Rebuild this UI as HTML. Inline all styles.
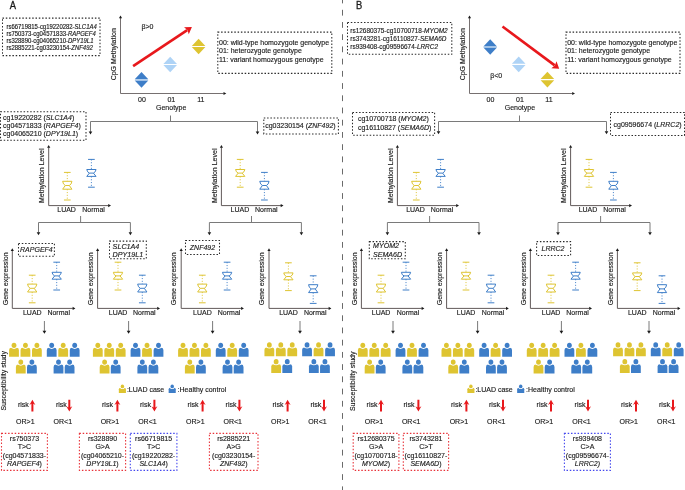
<!DOCTYPE html>
<html><head><meta charset="utf-8"><title>Figure</title>
<style>
html,body{margin:0;padding:0;background:#fff;}
body{width:685px;height:490px;overflow:hidden;}
svg{display:block;filter:blur(0.3px);}
svg text{font-family:"Liberation Sans", sans-serif;fill:#1a1a1a;stroke:#1a1a1a;stroke-width:0.14px;}
</style></head>
<body>
<svg width="685" height="490" viewBox="0 0 685 490">
<rect x="0" y="0" width="685" height="490" fill="#ffffff"/>
<text transform="translate(9.7,8.8) scale(0.92,1)" font-size="10.2" style="stroke-width:0.3px">A</text>
<text transform="translate(355.9,8.8) scale(0.92,1)" font-size="10.2" style="stroke-width:0.3px">B</text>
<line x1="342.5" y1="0" x2="342.5" y2="490" stroke="#6a6a6a" stroke-width="1" stroke-dasharray="5.8 6.42" stroke-dashoffset="2.42"/>
<rect x="2.5" y="18.1" width="97.5" height="37.5" fill="none" stroke="#2a2a2a" stroke-width="1.05" stroke-dasharray="1.5 1.8"/>
<text transform="translate(6.5,29.30) scale(0.5,0.54)" font-size="11.9" style="stroke-width:0.28px">rs66719815-cg19220282-<tspan font-style="italic">SLC1A4</tspan></text>
<text transform="translate(6.5,36.25) scale(0.5,0.54)" font-size="11.9" style="stroke-width:0.28px">rs750373-cg04571833-<tspan font-style="italic">RAPGEF4</tspan></text>
<text transform="translate(6.5,43.20) scale(0.5,0.54)" font-size="11.9" style="stroke-width:0.28px">rs328890-cg04065210-<tspan font-style="italic">DPY19L1</tspan></text>
<text transform="translate(6.5,50.15) scale(0.5,0.54)" font-size="11.9" style="stroke-width:0.28px">rs2885221-cg03230154-<tspan font-style="italic">ZNF492</tspan></text>
<rect x="347.5" y="22.5" width="104.30000000000001" height="31.799999999999997" fill="none" stroke="#2a2a2a" stroke-width="1.05" stroke-dasharray="1.5 1.8"/>
<text x="350.3" y="32.70" font-size="6.45">rs12680375-cg10700718-<tspan font-style="italic">MYOM2</tspan></text>
<text x="350.3" y="40.60" font-size="6.45">rs3743281-cg16110827-<tspan font-style="italic">SEMA6D</tspan></text>
<text x="350.3" y="48.50" font-size="6.45">rs939408-cg09596674-<tspan font-style="italic">LRRC2</tspan></text>
<line x1="120.5" y1="17.5" x2="120.5" y2="93.5" stroke="#767070" stroke-width="1" />
<path d="M118.9,18.3 L122.1,18.3 L120.5,15.5 Z" fill="#1a1a1a"/>
<line x1="120.5" y1="93.5" x2="223.8" y2="93.5" stroke="#767070" stroke-width="1" />
<path d="M223.5,91.9 L223.5,95.1 L226.3,93.5 Z" fill="#1a1a1a"/>
<text transform="translate(116.3,54.3) rotate(-90)" font-size="7" text-anchor="middle">CpG Methylation</text>
<text x="141.9" y="102.2" font-size="7" text-anchor="middle" >00</text>
<text x="171.3" y="102.2" font-size="7" text-anchor="middle" >01</text>
<text x="200.8" y="102.2" font-size="7" text-anchor="middle" >11</text>
<text x="171.20000000000002" y="109.7" font-size="7" text-anchor="middle" >Genotype</text>
<line x1="170.5" y1="115.5" x2="170.5" y2="121.5" stroke="#7a7a7a" stroke-width="1" />
<path d="M141.5,72.10000000000001 L148.3,79.35000000000001 L134.7,79.35000000000001 Z" fill="#3e7ec8"/>
<path d="M141.5,87.7 L148.3,80.45 L134.7,80.45 Z" fill="#3e7ec8"/>
<rect x="135.1" y="79.35000000000001" width="12.799999999999999" height="1.1" fill="#a6c8ec"/>
<path d="M170.2,56.7 L177.0,63.95 L163.39999999999998,63.95 Z" fill="#aed3f6"/>
<path d="M170.2,72.3 L177.0,65.05 L163.39999999999998,65.05 Z" fill="#aed3f6"/>
<path d="M198.6,38.7 L205.4,45.95 L191.79999999999998,45.95 Z" fill="#dec431"/>
<path d="M198.6,54.3 L205.4,47.05 L191.79999999999998,47.05 Z" fill="#dec431"/>
<line x1="133.1" y1="66.1" x2="187.23" y2="30.20" stroke="#e8181c" stroke-width="2.6"/>
<path d="M191.9,27.1 L188.78,34.33 L187.40,30.08 L184.02,27.16 Z" fill="#e8181c"/>
<text x="141.4" y="29.4" font-size="7" text-anchor="start" >β&gt;0</text>
<rect x="217.8" y="32.1" width="114.0" height="41.300000000000004" fill="none" stroke="#2a2a2a" stroke-width="1.05" stroke-dasharray="1.5 1.8"/>
<text x="219.0" y="45.1" font-size="7" text-anchor="start" >00: wild-type homozygote genotype</text>
<text x="219.0" y="53.400000000000006" font-size="7" text-anchor="start" >01: heterozygote genotype</text>
<text x="219.0" y="61.7" font-size="7" text-anchor="start" >11: variant homozygous genotype</text>
<line x1="469.5" y1="17.5" x2="469.5" y2="93.5" stroke="#767070" stroke-width="1" />
<path d="M467.9,18.3 L471.1,18.3 L469.5,15.5 Z" fill="#1a1a1a"/>
<line x1="469.5" y1="93.5" x2="572.5" y2="93.5" stroke="#767070" stroke-width="1" />
<path d="M572.2,91.9 L572.2,95.1 L575.0,93.5 Z" fill="#1a1a1a"/>
<text transform="translate(465.3,54.3) rotate(-90)" font-size="7" text-anchor="middle">CpG Methylation</text>
<text x="490.4" y="102.2" font-size="7" text-anchor="middle" >00</text>
<text x="520" y="102.2" font-size="7" text-anchor="middle" >01</text>
<text x="549" y="102.2" font-size="7" text-anchor="middle" >11</text>
<text x="519.9" y="109.7" font-size="7" text-anchor="middle" >Genotype</text>
<line x1="519.5" y1="115.5" x2="519.5" y2="121.5" stroke="#7a7a7a" stroke-width="1" />
<path d="M490.2,39.2 L497.0,46.45 L483.4,46.45 Z" fill="#3e7ec8"/>
<path d="M490.2,54.8 L497.0,47.55 L483.4,47.55 Z" fill="#3e7ec8"/>
<rect x="483.79999999999995" y="46.45" width="12.799999999999999" height="1.1" fill="#a6c8ec"/>
<path d="M518.7,56.60000000000001 L525.5,63.85000000000001 L511.90000000000003,63.85000000000001 Z" fill="#aed3f6"/>
<path d="M518.7,72.2 L525.5,64.95 L511.90000000000003,64.95 Z" fill="#aed3f6"/>
<path d="M547.4,71.8 L554.1999999999999,79.05 L540.6,79.05 Z" fill="#dec431"/>
<path d="M547.4,87.39999999999999 L554.1999999999999,80.14999999999999 L540.6,80.14999999999999 Z" fill="#dec431"/>
<line x1="502.5" y1="26.5" x2="554.71" y2="65.36" stroke="#e8181c" stroke-width="2.6"/>
<path d="M559.2,68.7 L551.34,68.21 L554.87,65.48 L556.47,61.31 Z" fill="#e8181c"/>
<text x="490.2" y="78.2" font-size="7" text-anchor="start" >β&lt;0</text>
<rect x="566.0" y="32.1" width="114.0" height="41.300000000000004" fill="none" stroke="#2a2a2a" stroke-width="1.05" stroke-dasharray="1.5 1.8"/>
<text x="567.2" y="45.1" font-size="7" text-anchor="start" >00: wild-type homozygote genotype</text>
<text x="567.2" y="53.400000000000006" font-size="7" text-anchor="start" >01: heterozygote genotype</text>
<text x="567.2" y="61.7" font-size="7" text-anchor="start" >11: variant homozygous genotype</text>
<line x1="90.5" y1="121.5" x2="257.5" y2="121.5" stroke="#7a7a7a" stroke-width="1" />
<line x1="90.5" y1="121.5" x2="90.5" y2="132" stroke="#7a7a7a" stroke-width="1" />
<path d="M88.7,131.6 L92.3,131.6 L90.5,134.6 Z" fill="#1a1a1a"/>
<line x1="257.5" y1="121.5" x2="257.5" y2="132" stroke="#7a7a7a" stroke-width="1" />
<path d="M255.7,131.6 L259.3,131.6 L257.5,134.6 Z" fill="#1a1a1a"/>
<line x1="438.5" y1="121.5" x2="606.5" y2="121.5" stroke="#7a7a7a" stroke-width="1" />
<line x1="438.5" y1="121.5" x2="438.5" y2="131.5" stroke="#7a7a7a" stroke-width="1" />
<path d="M436.7,131.2 L440.3,131.2 L438.5,134.2 Z" fill="#1a1a1a"/>
<line x1="606.5" y1="121.5" x2="606.5" y2="131.5" stroke="#7a7a7a" stroke-width="1" />
<path d="M604.7,131.2 L608.3,131.2 L606.5,134.2 Z" fill="#1a1a1a"/>
<rect x="0.5" y="111.8" width="85.5" height="28.39999999999999" fill="none" stroke="#2a2a2a" stroke-width="1.05" stroke-dasharray="1.5 1.8"/>
<text x="3" y="119.60" font-size="7">cg19220282 (<tspan font-style="italic">SLC1A4</tspan>)</text>
<text x="3" y="128.00" font-size="7">cg04571833 (<tspan font-style="italic">RAPGEF4</tspan>)</text>
<text x="3" y="136.40" font-size="7">cg04065210 (<tspan font-style="italic">DPY19L1</tspan>)</text>
<rect x="263.8" y="117.9" width="74.59999999999997" height="16.0" fill="none" stroke="#2a2a2a" stroke-width="1.05" stroke-dasharray="1.5 1.8"/>
<text x="265.2" y="128.2" font-size="7">cg03230154 (<tspan font-style="italic">ZNF492</tspan>)</text>
<rect x="352.5" y="112.4" width="82.10000000000002" height="22.799999999999983" fill="none" stroke="#2a2a2a" stroke-width="1.05" stroke-dasharray="1.5 1.8"/>
<text x="357.9" y="121.40" font-size="7">cg10700718 (<tspan font-style="italic">MYOM2</tspan>)</text>
<text x="357.9" y="129.60" font-size="7">cg16110827 (<tspan font-style="italic">SEMA6D</tspan>)</text>
<rect x="610.5" y="112.4" width="74.0" height="23.0" fill="none" stroke="#2a2a2a" stroke-width="1.05" stroke-dasharray="1.5 1.8"/>
<text x="613.5" y="126.9" font-size="7">cg09596674 (<tspan font-style="italic">LRRC2</tspan>)</text>
<line x1="48.7" y1="147.3" x2="48.7" y2="205.6" stroke="#625a5a" stroke-width="1" />
<path d="M47.1,147.8 L50.300000000000004,147.8 L48.7,145.0 Z" fill="#1a1a1a"/>
<line x1="48.7" y1="205.6" x2="108.5" y2="205.6" stroke="#625a5a" stroke-width="1" />
<path d="M108.2,204.0 L108.2,207.2 L111.0,205.6 Z" fill="#1a1a1a"/>
<text transform="translate(43.900000000000006,175.8) rotate(-90)" font-size="7" text-anchor="middle">Methylation Level</text>
<line x1="67.3" y1="172.39999999999998" x2="67.3" y2="181.29999999999998" stroke="#dec431" stroke-width="0.9" stroke-dasharray="1.1 1.7"/>
<line x1="67.3" y1="189.2" x2="67.3" y2="200.0" stroke="#dec431" stroke-width="0.9" stroke-dasharray="1.1 1.7"/>
<line x1="63.949999999999996" y1="172.39999999999998" x2="70.64999999999999" y2="172.39999999999998" stroke="#dec431" stroke-width="1.0"/>
<line x1="63.949999999999996" y1="200.0" x2="70.64999999999999" y2="200.0" stroke="#dec431" stroke-width="1.0"/>
<path d="M62.65,181.29999999999998 L71.95,181.29999999999998 Q71.55,184.45 69.3,185.5 L71.95,189.2 L62.65,189.2 L65.3,185.5 Q63.05,184.45 62.65,181.29999999999998 Z" fill="none" stroke="#dec431" stroke-width="1.0" stroke-linejoin="miter"/>
<line x1="65.3" y1="185.5" x2="69.3" y2="185.5" stroke="#dec431" stroke-width="1.0"/>
<line x1="91.4" y1="159.39999999999998" x2="91.4" y2="169.5" stroke="#3e7ec8" stroke-width="0.9" stroke-dasharray="1.1 1.7"/>
<line x1="91.4" y1="176.4" x2="91.4" y2="187.2" stroke="#3e7ec8" stroke-width="0.9" stroke-dasharray="1.1 1.7"/>
<line x1="88.05000000000001" y1="159.39999999999998" x2="94.75" y2="159.39999999999998" stroke="#3e7ec8" stroke-width="1.0"/>
<line x1="88.05000000000001" y1="187.2" x2="94.75" y2="187.2" stroke="#3e7ec8" stroke-width="1.0"/>
<path d="M86.75,169.5 L96.05000000000001,169.5 Q95.65,172.20 93.4,173.1 L96.05000000000001,176.4 L86.75,176.4 L89.4,173.1 Q87.15,172.20 86.75,169.5 Z" fill="none" stroke="#3e7ec8" stroke-width="1.0" stroke-linejoin="miter"/>
<line x1="89.4" y1="173.1" x2="93.4" y2="173.1" stroke="#3e7ec8" stroke-width="1.0"/>
<text x="66.6" y="211.8" font-size="7" text-anchor="middle" >LUAD</text>
<text x="93.6" y="211.8" font-size="7" text-anchor="middle" >Normal</text>
<line x1="221.4" y1="147.3" x2="221.4" y2="205.6" stroke="#625a5a" stroke-width="1" />
<path d="M219.8,147.8 L223.0,147.8 L221.4,145.0 Z" fill="#1a1a1a"/>
<line x1="221.4" y1="205.6" x2="281.0" y2="205.6" stroke="#625a5a" stroke-width="1" />
<path d="M280.7,204.0 L280.7,207.2 L283.5,205.6 Z" fill="#1a1a1a"/>
<text transform="translate(216.6,175.8) rotate(-90)" font-size="7" text-anchor="middle">Methylation Level</text>
<line x1="240.2" y1="159.39999999999998" x2="240.2" y2="169.5" stroke="#dec431" stroke-width="0.9" stroke-dasharray="1.1 1.7"/>
<line x1="240.2" y1="176.4" x2="240.2" y2="187.2" stroke="#dec431" stroke-width="0.9" stroke-dasharray="1.1 1.7"/>
<line x1="236.85" y1="159.39999999999998" x2="243.54999999999998" y2="159.39999999999998" stroke="#dec431" stroke-width="1.0"/>
<line x1="236.85" y1="187.2" x2="243.54999999999998" y2="187.2" stroke="#dec431" stroke-width="1.0"/>
<path d="M235.54999999999998,169.5 L244.85,169.5 Q244.45,172.20 242.2,173.1 L244.85,176.4 L235.54999999999998,176.4 L238.2,173.1 Q235.95,172.20 235.54999999999998,169.5 Z" fill="none" stroke="#dec431" stroke-width="1.0" stroke-linejoin="miter"/>
<line x1="238.2" y1="173.1" x2="242.2" y2="173.1" stroke="#dec431" stroke-width="1.0"/>
<line x1="264.4" y1="172.39999999999998" x2="264.4" y2="181.29999999999998" stroke="#3e7ec8" stroke-width="0.9" stroke-dasharray="1.1 1.7"/>
<line x1="264.4" y1="189.2" x2="264.4" y2="200.0" stroke="#3e7ec8" stroke-width="0.9" stroke-dasharray="1.1 1.7"/>
<line x1="261.04999999999995" y1="172.39999999999998" x2="267.75" y2="172.39999999999998" stroke="#3e7ec8" stroke-width="1.0"/>
<line x1="261.04999999999995" y1="200.0" x2="267.75" y2="200.0" stroke="#3e7ec8" stroke-width="1.0"/>
<path d="M259.75,181.29999999999998 L269.04999999999995,181.29999999999998 Q268.65,184.45 266.4,185.5 L269.04999999999995,189.2 L259.75,189.2 L262.4,185.5 Q260.15,184.45 259.75,181.29999999999998 Z" fill="none" stroke="#3e7ec8" stroke-width="1.0" stroke-linejoin="miter"/>
<line x1="262.4" y1="185.5" x2="266.4" y2="185.5" stroke="#3e7ec8" stroke-width="1.0"/>
<text x="239.9" y="211.8" font-size="7" text-anchor="middle" >LUAD</text>
<text x="266.3" y="211.8" font-size="7" text-anchor="middle" >Normal</text>
<line x1="397.4" y1="147.3" x2="397.4" y2="205.6" stroke="#625a5a" stroke-width="1" />
<path d="M395.79999999999995,147.8 L399.0,147.8 L397.4,145.0 Z" fill="#1a1a1a"/>
<line x1="397.4" y1="205.6" x2="456.5" y2="205.6" stroke="#625a5a" stroke-width="1" />
<path d="M456.2,204.0 L456.2,207.2 L459.0,205.6 Z" fill="#1a1a1a"/>
<text transform="translate(392.59999999999997,175.8) rotate(-90)" font-size="7" text-anchor="middle">Methylation Level</text>
<line x1="416.3" y1="172.39999999999998" x2="416.3" y2="181.29999999999998" stroke="#dec431" stroke-width="0.9" stroke-dasharray="1.1 1.7"/>
<line x1="416.3" y1="189.2" x2="416.3" y2="200.0" stroke="#dec431" stroke-width="0.9" stroke-dasharray="1.1 1.7"/>
<line x1="412.95" y1="172.39999999999998" x2="419.65000000000003" y2="172.39999999999998" stroke="#dec431" stroke-width="1.0"/>
<line x1="412.95" y1="200.0" x2="419.65000000000003" y2="200.0" stroke="#dec431" stroke-width="1.0"/>
<path d="M411.65000000000003,181.29999999999998 L420.95,181.29999999999998 Q420.55,184.45 418.3,185.5 L420.95,189.2 L411.65000000000003,189.2 L414.3,185.5 Q412.05,184.45 411.65000000000003,181.29999999999998 Z" fill="none" stroke="#dec431" stroke-width="1.0" stroke-linejoin="miter"/>
<line x1="414.3" y1="185.5" x2="418.3" y2="185.5" stroke="#dec431" stroke-width="1.0"/>
<line x1="440.6" y1="159.39999999999998" x2="440.6" y2="169.5" stroke="#3e7ec8" stroke-width="0.9" stroke-dasharray="1.1 1.7"/>
<line x1="440.6" y1="176.4" x2="440.6" y2="187.2" stroke="#3e7ec8" stroke-width="0.9" stroke-dasharray="1.1 1.7"/>
<line x1="437.25" y1="159.39999999999998" x2="443.95000000000005" y2="159.39999999999998" stroke="#3e7ec8" stroke-width="1.0"/>
<line x1="437.25" y1="187.2" x2="443.95000000000005" y2="187.2" stroke="#3e7ec8" stroke-width="1.0"/>
<path d="M435.95000000000005,169.5 L445.25,169.5 Q444.85,172.20 442.6,173.1 L445.25,176.4 L435.95000000000005,176.4 L438.6,173.1 Q436.35,172.20 435.95000000000005,169.5 Z" fill="none" stroke="#3e7ec8" stroke-width="1.0" stroke-linejoin="miter"/>
<line x1="438.6" y1="173.1" x2="442.6" y2="173.1" stroke="#3e7ec8" stroke-width="1.0"/>
<text x="415.5" y="211.8" font-size="7" text-anchor="middle" >LUAD</text>
<text x="442.0" y="211.8" font-size="7" text-anchor="middle" >Normal</text>
<line x1="570.6" y1="147.3" x2="570.6" y2="205.6" stroke="#625a5a" stroke-width="1" />
<path d="M569.0,147.8 L572.2,147.8 L570.6,145.0 Z" fill="#1a1a1a"/>
<line x1="570.6" y1="205.6" x2="629.5" y2="205.6" stroke="#625a5a" stroke-width="1" />
<path d="M629.2,204.0 L629.2,207.2 L632.0,205.6 Z" fill="#1a1a1a"/>
<text transform="translate(565.8000000000001,175.8) rotate(-90)" font-size="7" text-anchor="middle">Methylation Level</text>
<line x1="589.0" y1="159.39999999999998" x2="589.0" y2="169.5" stroke="#dec431" stroke-width="0.9" stroke-dasharray="1.1 1.7"/>
<line x1="589.0" y1="176.4" x2="589.0" y2="187.2" stroke="#dec431" stroke-width="0.9" stroke-dasharray="1.1 1.7"/>
<line x1="585.65" y1="159.39999999999998" x2="592.35" y2="159.39999999999998" stroke="#dec431" stroke-width="1.0"/>
<line x1="585.65" y1="187.2" x2="592.35" y2="187.2" stroke="#dec431" stroke-width="1.0"/>
<path d="M584.35,169.5 L593.65,169.5 Q593.25,172.20 591.0,173.1 L593.65,176.4 L584.35,176.4 L587.0,173.1 Q584.75,172.20 584.35,169.5 Z" fill="none" stroke="#dec431" stroke-width="1.0" stroke-linejoin="miter"/>
<line x1="587.0" y1="173.1" x2="591.0" y2="173.1" stroke="#dec431" stroke-width="1.0"/>
<line x1="613.4" y1="172.39999999999998" x2="613.4" y2="181.29999999999998" stroke="#3e7ec8" stroke-width="0.9" stroke-dasharray="1.1 1.7"/>
<line x1="613.4" y1="189.2" x2="613.4" y2="200.0" stroke="#3e7ec8" stroke-width="0.9" stroke-dasharray="1.1 1.7"/>
<line x1="610.05" y1="172.39999999999998" x2="616.75" y2="172.39999999999998" stroke="#3e7ec8" stroke-width="1.0"/>
<line x1="610.05" y1="200.0" x2="616.75" y2="200.0" stroke="#3e7ec8" stroke-width="1.0"/>
<path d="M608.75,181.29999999999998 L618.05,181.29999999999998 Q617.65,184.45 615.4,185.5 L618.05,189.2 L608.75,189.2 L611.4,185.5 Q609.15,184.45 608.75,181.29999999999998 Z" fill="none" stroke="#3e7ec8" stroke-width="1.0" stroke-linejoin="miter"/>
<line x1="611.4" y1="185.5" x2="615.4" y2="185.5" stroke="#3e7ec8" stroke-width="1.0"/>
<text x="588.0" y="211.8" font-size="7" text-anchor="middle" >LUAD</text>
<text x="614.6" y="211.8" font-size="7" text-anchor="middle" >Normal</text>
<line x1="80.6" y1="216" x2="80.6" y2="222.5" stroke="#7a7a7a" stroke-width="1" />
<line x1="38.5" y1="222.5" x2="130.4" y2="222.5" stroke="#7a7a7a" stroke-width="1" />
<line x1="38.5" y1="222.5" x2="38.5" y2="232.5" stroke="#7a7a7a" stroke-width="1" />
<path d="M36.7,232.3 L40.3,232.3 L38.5,235.3 Z" fill="#1a1a1a"/>
<line x1="130.4" y1="222.5" x2="130.4" y2="232.5" stroke="#7a7a7a" stroke-width="1" />
<path d="M128.6,232.3 L132.20000000000002,232.3 L130.4,235.3 Z" fill="#1a1a1a"/>
<line x1="251.5" y1="216" x2="251.5" y2="222.5" stroke="#7a7a7a" stroke-width="1" />
<line x1="209.4" y1="222.5" x2="301.4" y2="222.5" stroke="#7a7a7a" stroke-width="1" />
<line x1="209.4" y1="222.5" x2="209.4" y2="232.5" stroke="#7a7a7a" stroke-width="1" />
<path d="M207.6,232.3 L211.20000000000002,232.3 L209.4,235.3 Z" fill="#1a1a1a"/>
<line x1="301.4" y1="222.5" x2="301.4" y2="232.5" stroke="#7a7a7a" stroke-width="1" />
<path d="M299.59999999999997,232.3 L303.2,232.3 L301.4,235.3 Z" fill="#1a1a1a"/>
<line x1="429.6" y1="216" x2="429.6" y2="222.5" stroke="#7a7a7a" stroke-width="1" />
<line x1="387.4" y1="222.5" x2="479.0" y2="222.5" stroke="#7a7a7a" stroke-width="1" />
<line x1="387.4" y1="222.5" x2="387.4" y2="232.5" stroke="#7a7a7a" stroke-width="1" />
<path d="M385.59999999999997,232.3 L389.2,232.3 L387.4,235.3 Z" fill="#1a1a1a"/>
<line x1="479.0" y1="222.5" x2="479.0" y2="232.5" stroke="#7a7a7a" stroke-width="1" />
<path d="M477.2,232.3 L480.8,232.3 L479.0,235.3 Z" fill="#1a1a1a"/>
<line x1="600.6" y1="216" x2="600.6" y2="222.5" stroke="#7a7a7a" stroke-width="1" />
<line x1="558.0" y1="222.5" x2="650.0" y2="222.5" stroke="#7a7a7a" stroke-width="1" />
<line x1="558.0" y1="222.5" x2="558.0" y2="232.5" stroke="#7a7a7a" stroke-width="1" />
<path d="M556.2,232.3 L559.8,232.3 L558.0,235.3 Z" fill="#1a1a1a"/>
<line x1="650.0" y1="222.5" x2="650.0" y2="232.5" stroke="#7a7a7a" stroke-width="1" />
<path d="M648.2,232.3 L651.8,232.3 L650.0,235.3 Z" fill="#1a1a1a"/>
<rect x="18.5" y="243.4" width="35.9" height="12.900000000000006" fill="none" stroke="#2a2a2a" stroke-width="1.05" stroke-dasharray="1.5 1.8"/>
<text x="36.4" y="252.20" font-size="7" text-anchor="middle" font-style="italic">RAPGEF4</text>
<rect x="109.5" y="241.1" width="36.80000000000001" height="17.700000000000017" fill="none" stroke="#2a2a2a" stroke-width="1.05" stroke-dasharray="1.5 1.8"/>
<text x="112.6" y="248.70" font-size="7.2" text-anchor="start" font-style="italic">SLC1A4</text>
<text x="112.6" y="256.70" font-size="7.2" text-anchor="start" font-style="italic">DPY19L1</text>
<rect x="185.5" y="240.4" width="34.0" height="14.0" fill="none" stroke="#2a2a2a" stroke-width="1.05" stroke-dasharray="1.5 1.8"/>
<text x="202.5" y="250.20" font-size="7" text-anchor="middle" font-style="italic">ZNF492</text>
<rect x="369.3" y="241.6" width="36.0" height="17.200000000000017" fill="none" stroke="#2a2a2a" stroke-width="1.05" stroke-dasharray="1.5 1.8"/>
<text x="373.0" y="248.40" font-size="7.1" text-anchor="start" font-style="italic">MYOM2</text>
<text x="373.0" y="256.50" font-size="7.1" text-anchor="start" font-style="italic">SEMA6D</text>
<rect x="536.6" y="241.6" width="34.0" height="13.800000000000011" fill="none" stroke="#2a2a2a" stroke-width="1.05" stroke-dasharray="1.5 1.8"/>
<text x="553.0" y="251.20" font-size="7" text-anchor="middle" font-style="italic">LRRC2</text>
<line x1="12.3" y1="250.60000000000002" x2="12.3" y2="308.4" stroke="#625a5a" stroke-width="1" />
<path d="M10.700000000000001,251.10000000000002 L13.9,251.10000000000002 L12.3,248.3 Z" fill="#1a1a1a"/>
<line x1="12.3" y1="308.4" x2="72.9" y2="308.4" stroke="#625a5a" stroke-width="1" />
<path d="M72.60000000000001,306.79999999999995 L72.60000000000001,310.0 L75.4,308.4 Z" fill="#1a1a1a"/>
<text transform="translate(7.500000000000001,278.85) rotate(-90)" font-size="7" text-anchor="middle">Gene expression</text>
<line x1="32.2" y1="275.2" x2="32.2" y2="284.09999999999997" stroke="#dec431" stroke-width="0.9" stroke-dasharray="1.1 1.7"/>
<line x1="32.2" y1="292.0" x2="32.2" y2="302.79999999999995" stroke="#dec431" stroke-width="0.9" stroke-dasharray="1.1 1.7"/>
<line x1="28.85" y1="275.2" x2="35.550000000000004" y2="275.2" stroke="#dec431" stroke-width="1.0"/>
<line x1="28.85" y1="302.79999999999995" x2="35.550000000000004" y2="302.79999999999995" stroke="#dec431" stroke-width="1.0"/>
<path d="M27.550000000000004,284.09999999999997 L36.85,284.09999999999997 Q36.45,287.25 34.2,288.29999999999995 L36.85,292.0 L27.550000000000004,292.0 L30.200000000000003,288.29999999999995 Q27.950000000000003,287.25 27.550000000000004,284.09999999999997 Z" fill="none" stroke="#dec431" stroke-width="1.0" stroke-linejoin="miter"/>
<line x1="30.200000000000003" y1="288.29999999999995" x2="34.2" y2="288.29999999999995" stroke="#dec431" stroke-width="1.0"/>
<line x1="56.7" y1="262.2" x2="56.7" y2="272.29999999999995" stroke="#3e7ec8" stroke-width="0.9" stroke-dasharray="1.1 1.7"/>
<line x1="56.7" y1="279.2" x2="56.7" y2="290.0" stroke="#3e7ec8" stroke-width="0.9" stroke-dasharray="1.1 1.7"/>
<line x1="53.35" y1="262.2" x2="60.050000000000004" y2="262.2" stroke="#3e7ec8" stroke-width="1.0"/>
<line x1="53.35" y1="290.0" x2="60.050000000000004" y2="290.0" stroke="#3e7ec8" stroke-width="1.0"/>
<path d="M52.050000000000004,272.29999999999995 L61.35,272.29999999999995 Q60.95,275.00 58.7,275.9 L61.35,279.2 L52.050000000000004,279.2 L54.7,275.9 Q52.45,275.00 52.050000000000004,272.29999999999995 Z" fill="none" stroke="#3e7ec8" stroke-width="1.0" stroke-linejoin="miter"/>
<line x1="54.7" y1="275.9" x2="58.7" y2="275.9" stroke="#3e7ec8" stroke-width="1.0"/>
<text x="32.300000000000004" y="314.5" font-size="7" text-anchor="middle" >LUAD</text>
<text x="58.7" y="314.5" font-size="7" text-anchor="middle" >Normal</text>
<line x1="97.6" y1="250.60000000000002" x2="97.6" y2="308.4" stroke="#625a5a" stroke-width="1" />
<path d="M96.0,251.10000000000002 L99.19999999999999,251.10000000000002 L97.6,248.3 Z" fill="#1a1a1a"/>
<line x1="97.6" y1="308.4" x2="157.5" y2="308.4" stroke="#625a5a" stroke-width="1" />
<path d="M157.2,306.79999999999995 L157.2,310.0 L160.0,308.4 Z" fill="#1a1a1a"/>
<text transform="translate(92.8,278.85) rotate(-90)" font-size="7" text-anchor="middle">Gene expression</text>
<line x1="118.0" y1="262.2" x2="118.0" y2="272.29999999999995" stroke="#dec431" stroke-width="0.9" stroke-dasharray="1.1 1.7"/>
<line x1="118.0" y1="279.2" x2="118.0" y2="290.0" stroke="#dec431" stroke-width="0.9" stroke-dasharray="1.1 1.7"/>
<line x1="114.65" y1="262.2" x2="121.35" y2="262.2" stroke="#dec431" stroke-width="1.0"/>
<line x1="114.65" y1="290.0" x2="121.35" y2="290.0" stroke="#dec431" stroke-width="1.0"/>
<path d="M113.35,272.29999999999995 L122.65,272.29999999999995 Q122.25,275.00 120.0,275.9 L122.65,279.2 L113.35,279.2 L116.0,275.9 Q113.75,275.00 113.35,272.29999999999995 Z" fill="none" stroke="#dec431" stroke-width="1.0" stroke-linejoin="miter"/>
<line x1="116.0" y1="275.9" x2="120.0" y2="275.9" stroke="#dec431" stroke-width="1.0"/>
<line x1="142.3" y1="275.2" x2="142.3" y2="284.09999999999997" stroke="#3e7ec8" stroke-width="0.9" stroke-dasharray="1.1 1.7"/>
<line x1="142.3" y1="292.0" x2="142.3" y2="302.79999999999995" stroke="#3e7ec8" stroke-width="0.9" stroke-dasharray="1.1 1.7"/>
<line x1="138.95000000000002" y1="275.2" x2="145.65" y2="275.2" stroke="#3e7ec8" stroke-width="1.0"/>
<line x1="138.95000000000002" y1="302.79999999999995" x2="145.65" y2="302.79999999999995" stroke="#3e7ec8" stroke-width="1.0"/>
<path d="M137.65,284.09999999999997 L146.95000000000002,284.09999999999997 Q146.55,287.25 144.3,288.29999999999995 L146.95000000000002,292.0 L137.65,292.0 L140.3,288.29999999999995 Q138.05,287.25 137.65,284.09999999999997 Z" fill="none" stroke="#3e7ec8" stroke-width="1.0" stroke-linejoin="miter"/>
<line x1="140.3" y1="288.29999999999995" x2="144.3" y2="288.29999999999995" stroke="#3e7ec8" stroke-width="1.0"/>
<text x="118.1" y="314.5" font-size="7" text-anchor="middle" >LUAD</text>
<text x="144.3" y="314.5" font-size="7" text-anchor="middle" >Normal</text>
<line x1="181.2" y1="250.60000000000002" x2="181.2" y2="308.4" stroke="#625a5a" stroke-width="1" />
<path d="M179.6,251.10000000000002 L182.79999999999998,251.10000000000002 L181.2,248.3 Z" fill="#1a1a1a"/>
<line x1="181.2" y1="308.4" x2="241.4" y2="308.4" stroke="#625a5a" stroke-width="1" />
<path d="M241.1,306.79999999999995 L241.1,310.0 L243.9,308.4 Z" fill="#1a1a1a"/>
<text transform="translate(176.39999999999998,278.85) rotate(-90)" font-size="7" text-anchor="middle">Gene expression</text>
<line x1="202.3" y1="275.2" x2="202.3" y2="284.09999999999997" stroke="#dec431" stroke-width="0.9" stroke-dasharray="1.1 1.7"/>
<line x1="202.3" y1="292.0" x2="202.3" y2="302.79999999999995" stroke="#dec431" stroke-width="0.9" stroke-dasharray="1.1 1.7"/>
<line x1="198.95000000000002" y1="275.2" x2="205.65" y2="275.2" stroke="#dec431" stroke-width="1.0"/>
<line x1="198.95000000000002" y1="302.79999999999995" x2="205.65" y2="302.79999999999995" stroke="#dec431" stroke-width="1.0"/>
<path d="M197.65,284.09999999999997 L206.95000000000002,284.09999999999997 Q206.55,287.25 204.3,288.29999999999995 L206.95000000000002,292.0 L197.65,292.0 L200.3,288.29999999999995 Q198.05,287.25 197.65,284.09999999999997 Z" fill="none" stroke="#dec431" stroke-width="1.0" stroke-linejoin="miter"/>
<line x1="200.3" y1="288.29999999999995" x2="204.3" y2="288.29999999999995" stroke="#dec431" stroke-width="1.0"/>
<line x1="227.1" y1="262.2" x2="227.1" y2="272.29999999999995" stroke="#3e7ec8" stroke-width="0.9" stroke-dasharray="1.1 1.7"/>
<line x1="227.1" y1="279.2" x2="227.1" y2="290.0" stroke="#3e7ec8" stroke-width="0.9" stroke-dasharray="1.1 1.7"/>
<line x1="223.75" y1="262.2" x2="230.45" y2="262.2" stroke="#3e7ec8" stroke-width="1.0"/>
<line x1="223.75" y1="290.0" x2="230.45" y2="290.0" stroke="#3e7ec8" stroke-width="1.0"/>
<path d="M222.45,272.29999999999995 L231.75,272.29999999999995 Q231.35,275.00 229.1,275.9 L231.75,279.2 L222.45,279.2 L225.1,275.9 Q222.85,275.00 222.45,272.29999999999995 Z" fill="none" stroke="#3e7ec8" stroke-width="1.0" stroke-linejoin="miter"/>
<line x1="225.1" y1="275.9" x2="229.1" y2="275.9" stroke="#3e7ec8" stroke-width="1.0"/>
<text x="202.4" y="314.5" font-size="7" text-anchor="middle" >LUAD</text>
<text x="229.1" y="314.5" font-size="7" text-anchor="middle" >Normal</text>
<line x1="269.0" y1="250.60000000000002" x2="269.0" y2="308.4" stroke="#625a5a" stroke-width="1" />
<path d="M267.4,251.10000000000002 L270.6,251.10000000000002 L269.0,248.3 Z" fill="#1a1a1a"/>
<line x1="269.0" y1="308.4" x2="328.9" y2="308.4" stroke="#625a5a" stroke-width="1" />
<path d="M328.59999999999997,306.79999999999995 L328.59999999999997,310.0 L331.4,308.4 Z" fill="#1a1a1a"/>
<text transform="translate(264.2,278.85) rotate(-90)" font-size="7" text-anchor="middle">Gene expression</text>
<line x1="288.4" y1="262.8" x2="288.4" y2="272.9" stroke="#dec431" stroke-width="0.9" stroke-dasharray="1.1 1.7"/>
<line x1="288.4" y1="279.8" x2="288.4" y2="290.6" stroke="#dec431" stroke-width="0.9" stroke-dasharray="1.1 1.7"/>
<line x1="285.04999999999995" y1="262.8" x2="291.75" y2="262.8" stroke="#dec431" stroke-width="1.0"/>
<line x1="285.04999999999995" y1="290.6" x2="291.75" y2="290.6" stroke="#dec431" stroke-width="1.0"/>
<path d="M283.75,272.9 L293.04999999999995,272.9 Q292.65,275.60 290.4,276.5 L293.04999999999995,279.8 L283.75,279.8 L286.4,276.5 Q284.15,275.60 283.75,272.9 Z" fill="none" stroke="#dec431" stroke-width="1.0" stroke-linejoin="miter"/>
<line x1="286.4" y1="276.5" x2="290.4" y2="276.5" stroke="#dec431" stroke-width="1.0"/>
<line x1="313.2" y1="275.8" x2="313.2" y2="284.7" stroke="#3e7ec8" stroke-width="0.9" stroke-dasharray="1.1 1.7"/>
<line x1="313.2" y1="292.6" x2="313.2" y2="303.4" stroke="#3e7ec8" stroke-width="0.9" stroke-dasharray="1.1 1.7"/>
<line x1="309.84999999999997" y1="275.8" x2="316.55" y2="275.8" stroke="#3e7ec8" stroke-width="1.0"/>
<line x1="309.84999999999997" y1="303.4" x2="316.55" y2="303.4" stroke="#3e7ec8" stroke-width="1.0"/>
<path d="M308.55,284.7 L317.84999999999997,284.7 Q317.45,287.85 315.2,288.9 L317.84999999999997,292.6 L308.55,292.6 L311.2,288.9 Q308.95,287.85 308.55,284.7 Z" fill="none" stroke="#3e7ec8" stroke-width="1.0" stroke-linejoin="miter"/>
<line x1="311.2" y1="288.9" x2="315.2" y2="288.9" stroke="#3e7ec8" stroke-width="1.0"/>
<text x="288.5" y="314.5" font-size="7" text-anchor="middle" >LUAD</text>
<text x="315.2" y="314.5" font-size="7" text-anchor="middle" >Normal</text>
<line x1="361.4" y1="250.60000000000002" x2="361.4" y2="308.4" stroke="#625a5a" stroke-width="1" />
<path d="M359.79999999999995,251.10000000000002 L363.0,251.10000000000002 L361.4,248.3 Z" fill="#1a1a1a"/>
<line x1="361.4" y1="308.4" x2="421.9" y2="308.4" stroke="#625a5a" stroke-width="1" />
<path d="M421.59999999999997,306.79999999999995 L421.59999999999997,310.0 L424.4,308.4 Z" fill="#1a1a1a"/>
<text transform="translate(356.59999999999997,278.85) rotate(-90)" font-size="7" text-anchor="middle">Gene expression</text>
<line x1="381.0" y1="275.2" x2="381.0" y2="284.09999999999997" stroke="#dec431" stroke-width="0.9" stroke-dasharray="1.1 1.7"/>
<line x1="381.0" y1="292.0" x2="381.0" y2="302.79999999999995" stroke="#dec431" stroke-width="0.9" stroke-dasharray="1.1 1.7"/>
<line x1="377.65" y1="275.2" x2="384.35" y2="275.2" stroke="#dec431" stroke-width="1.0"/>
<line x1="377.65" y1="302.79999999999995" x2="384.35" y2="302.79999999999995" stroke="#dec431" stroke-width="1.0"/>
<path d="M376.35,284.09999999999997 L385.65,284.09999999999997 Q385.25,287.25 383.0,288.29999999999995 L385.65,292.0 L376.35,292.0 L379.0,288.29999999999995 Q376.75,287.25 376.35,284.09999999999997 Z" fill="none" stroke="#dec431" stroke-width="1.0" stroke-linejoin="miter"/>
<line x1="379.0" y1="288.29999999999995" x2="383.0" y2="288.29999999999995" stroke="#dec431" stroke-width="1.0"/>
<line x1="406.0" y1="262.2" x2="406.0" y2="272.29999999999995" stroke="#3e7ec8" stroke-width="0.9" stroke-dasharray="1.1 1.7"/>
<line x1="406.0" y1="279.2" x2="406.0" y2="290.0" stroke="#3e7ec8" stroke-width="0.9" stroke-dasharray="1.1 1.7"/>
<line x1="402.65" y1="262.2" x2="409.35" y2="262.2" stroke="#3e7ec8" stroke-width="1.0"/>
<line x1="402.65" y1="290.0" x2="409.35" y2="290.0" stroke="#3e7ec8" stroke-width="1.0"/>
<path d="M401.35,272.29999999999995 L410.65,272.29999999999995 Q410.25,275.00 408.0,275.9 L410.65,279.2 L401.35,279.2 L404.0,275.9 Q401.75,275.00 401.35,272.29999999999995 Z" fill="none" stroke="#3e7ec8" stroke-width="1.0" stroke-linejoin="miter"/>
<line x1="404.0" y1="275.9" x2="408.0" y2="275.9" stroke="#3e7ec8" stroke-width="1.0"/>
<text x="381.1" y="314.5" font-size="7" text-anchor="middle" >LUAD</text>
<text x="408.0" y="314.5" font-size="7" text-anchor="middle" >Normal</text>
<line x1="446.6" y1="250.60000000000002" x2="446.6" y2="308.4" stroke="#625a5a" stroke-width="1" />
<path d="M445.0,251.10000000000002 L448.20000000000005,251.10000000000002 L446.6,248.3 Z" fill="#1a1a1a"/>
<line x1="446.6" y1="308.4" x2="506.3" y2="308.4" stroke="#625a5a" stroke-width="1" />
<path d="M506.0,306.79999999999995 L506.0,310.0 L508.8,308.4 Z" fill="#1a1a1a"/>
<text transform="translate(441.8,278.85) rotate(-90)" font-size="7" text-anchor="middle">Gene expression</text>
<line x1="466.0" y1="262.2" x2="466.0" y2="272.29999999999995" stroke="#dec431" stroke-width="0.9" stroke-dasharray="1.1 1.7"/>
<line x1="466.0" y1="279.2" x2="466.0" y2="290.0" stroke="#dec431" stroke-width="0.9" stroke-dasharray="1.1 1.7"/>
<line x1="462.65" y1="262.2" x2="469.35" y2="262.2" stroke="#dec431" stroke-width="1.0"/>
<line x1="462.65" y1="290.0" x2="469.35" y2="290.0" stroke="#dec431" stroke-width="1.0"/>
<path d="M461.35,272.29999999999995 L470.65,272.29999999999995 Q470.25,275.00 468.0,275.9 L470.65,279.2 L461.35,279.2 L464.0,275.9 Q461.75,275.00 461.35,272.29999999999995 Z" fill="none" stroke="#dec431" stroke-width="1.0" stroke-linejoin="miter"/>
<line x1="464.0" y1="275.9" x2="468.0" y2="275.9" stroke="#dec431" stroke-width="1.0"/>
<line x1="491.0" y1="275.2" x2="491.0" y2="284.09999999999997" stroke="#3e7ec8" stroke-width="0.9" stroke-dasharray="1.1 1.7"/>
<line x1="491.0" y1="292.0" x2="491.0" y2="302.79999999999995" stroke="#3e7ec8" stroke-width="0.9" stroke-dasharray="1.1 1.7"/>
<line x1="487.65" y1="275.2" x2="494.35" y2="275.2" stroke="#3e7ec8" stroke-width="1.0"/>
<line x1="487.65" y1="302.79999999999995" x2="494.35" y2="302.79999999999995" stroke="#3e7ec8" stroke-width="1.0"/>
<path d="M486.35,284.09999999999997 L495.65,284.09999999999997 Q495.25,287.25 493.0,288.29999999999995 L495.65,292.0 L486.35,292.0 L489.0,288.29999999999995 Q486.75,287.25 486.35,284.09999999999997 Z" fill="none" stroke="#3e7ec8" stroke-width="1.0" stroke-linejoin="miter"/>
<line x1="489.0" y1="288.29999999999995" x2="493.0" y2="288.29999999999995" stroke="#3e7ec8" stroke-width="1.0"/>
<text x="466.1" y="314.5" font-size="7" text-anchor="middle" >LUAD</text>
<text x="493.0" y="314.5" font-size="7" text-anchor="middle" >Normal</text>
<line x1="530.4" y1="250.60000000000002" x2="530.4" y2="308.4" stroke="#625a5a" stroke-width="1" />
<path d="M528.8,251.10000000000002 L532.0,251.10000000000002 L530.4,248.3 Z" fill="#1a1a1a"/>
<line x1="530.4" y1="308.4" x2="589.5" y2="308.4" stroke="#625a5a" stroke-width="1" />
<path d="M589.2,306.79999999999995 L589.2,310.0 L592.0,308.4 Z" fill="#1a1a1a"/>
<text transform="translate(525.6,278.85) rotate(-90)" font-size="7" text-anchor="middle">Gene expression</text>
<line x1="551.0" y1="275.2" x2="551.0" y2="284.09999999999997" stroke="#dec431" stroke-width="0.9" stroke-dasharray="1.1 1.7"/>
<line x1="551.0" y1="292.0" x2="551.0" y2="302.79999999999995" stroke="#dec431" stroke-width="0.9" stroke-dasharray="1.1 1.7"/>
<line x1="547.65" y1="275.2" x2="554.35" y2="275.2" stroke="#dec431" stroke-width="1.0"/>
<line x1="547.65" y1="302.79999999999995" x2="554.35" y2="302.79999999999995" stroke="#dec431" stroke-width="1.0"/>
<path d="M546.35,284.09999999999997 L555.65,284.09999999999997 Q555.25,287.25 553.0,288.29999999999995 L555.65,292.0 L546.35,292.0 L549.0,288.29999999999995 Q546.75,287.25 546.35,284.09999999999997 Z" fill="none" stroke="#dec431" stroke-width="1.0" stroke-linejoin="miter"/>
<line x1="549.0" y1="288.29999999999995" x2="553.0" y2="288.29999999999995" stroke="#dec431" stroke-width="1.0"/>
<line x1="575.6" y1="262.2" x2="575.6" y2="272.29999999999995" stroke="#3e7ec8" stroke-width="0.9" stroke-dasharray="1.1 1.7"/>
<line x1="575.6" y1="279.2" x2="575.6" y2="290.0" stroke="#3e7ec8" stroke-width="0.9" stroke-dasharray="1.1 1.7"/>
<line x1="572.25" y1="262.2" x2="578.95" y2="262.2" stroke="#3e7ec8" stroke-width="1.0"/>
<line x1="572.25" y1="290.0" x2="578.95" y2="290.0" stroke="#3e7ec8" stroke-width="1.0"/>
<path d="M570.95,272.29999999999995 L580.25,272.29999999999995 Q579.85,275.00 577.6,275.9 L580.25,279.2 L570.95,279.2 L573.6,275.9 Q571.35,275.00 570.95,272.29999999999995 Z" fill="none" stroke="#3e7ec8" stroke-width="1.0" stroke-linejoin="miter"/>
<line x1="573.6" y1="275.9" x2="577.6" y2="275.9" stroke="#3e7ec8" stroke-width="1.0"/>
<text x="551.1" y="314.5" font-size="7" text-anchor="middle" >LUAD</text>
<text x="577.6" y="314.5" font-size="7" text-anchor="middle" >Normal</text>
<line x1="617.4" y1="250.60000000000002" x2="617.4" y2="308.4" stroke="#625a5a" stroke-width="1" />
<path d="M615.8,251.10000000000002 L619.0,251.10000000000002 L617.4,248.3 Z" fill="#1a1a1a"/>
<line x1="617.4" y1="308.4" x2="677.9" y2="308.4" stroke="#625a5a" stroke-width="1" />
<path d="M677.6,306.79999999999995 L677.6,310.0 L680.4,308.4 Z" fill="#1a1a1a"/>
<text transform="translate(612.6,278.85) rotate(-90)" font-size="7" text-anchor="middle">Gene expression</text>
<line x1="637.2" y1="262.8" x2="637.2" y2="272.9" stroke="#dec431" stroke-width="0.9" stroke-dasharray="1.1 1.7"/>
<line x1="637.2" y1="279.8" x2="637.2" y2="290.6" stroke="#dec431" stroke-width="0.9" stroke-dasharray="1.1 1.7"/>
<line x1="633.85" y1="262.8" x2="640.5500000000001" y2="262.8" stroke="#dec431" stroke-width="1.0"/>
<line x1="633.85" y1="290.6" x2="640.5500000000001" y2="290.6" stroke="#dec431" stroke-width="1.0"/>
<path d="M632.5500000000001,272.9 L641.85,272.9 Q641.45,275.60 639.2,276.5 L641.85,279.8 L632.5500000000001,279.8 L635.2,276.5 Q632.95,275.60 632.5500000000001,272.9 Z" fill="none" stroke="#dec431" stroke-width="1.0" stroke-linejoin="miter"/>
<line x1="635.2" y1="276.5" x2="639.2" y2="276.5" stroke="#dec431" stroke-width="1.0"/>
<line x1="662.0" y1="275.8" x2="662.0" y2="284.7" stroke="#3e7ec8" stroke-width="0.9" stroke-dasharray="1.1 1.7"/>
<line x1="662.0" y1="292.6" x2="662.0" y2="303.4" stroke="#3e7ec8" stroke-width="0.9" stroke-dasharray="1.1 1.7"/>
<line x1="658.65" y1="275.8" x2="665.35" y2="275.8" stroke="#3e7ec8" stroke-width="1.0"/>
<line x1="658.65" y1="303.4" x2="665.35" y2="303.4" stroke="#3e7ec8" stroke-width="1.0"/>
<path d="M657.35,284.7 L666.65,284.7 Q666.25,287.85 664.0,288.9 L666.65,292.6 L657.35,292.6 L660.0,288.9 Q657.75,287.85 657.35,284.7 Z" fill="none" stroke="#3e7ec8" stroke-width="1.0" stroke-linejoin="miter"/>
<line x1="660.0" y1="288.9" x2="664.0" y2="288.9" stroke="#3e7ec8" stroke-width="1.0"/>
<text x="637.3000000000001" y="314.5" font-size="7" text-anchor="middle" >LUAD</text>
<text x="664.0" y="314.5" font-size="7" text-anchor="middle" >Normal</text>
<line x1="44.4" y1="321" x2="44.4" y2="331.2" stroke="#7a7a7a" stroke-width="1" />
<path d="M42.5,330.8 L46.3,330.8 L44.4,333.8 Z" fill="#1a1a1a"/>
<line x1="128.6" y1="321" x2="128.6" y2="331.2" stroke="#7a7a7a" stroke-width="1" />
<path d="M126.69999999999999,330.8 L130.5,330.8 L128.6,333.8 Z" fill="#1a1a1a"/>
<line x1="212.6" y1="321" x2="212.6" y2="331.2" stroke="#7a7a7a" stroke-width="1" />
<path d="M210.7,330.8 L214.5,330.8 L212.6,333.8 Z" fill="#1a1a1a"/>
<line x1="300.0" y1="321" x2="300.0" y2="331.2" stroke="#7a7a7a" stroke-width="1" />
<path d="M298.1,330.8 L301.9,330.8 L300.0,333.8 Z" fill="#1a1a1a"/>
<line x1="393.0" y1="321" x2="393.0" y2="331.2" stroke="#7a7a7a" stroke-width="1" />
<path d="M391.1,330.8 L394.9,330.8 L393.0,333.8 Z" fill="#1a1a1a"/>
<line x1="477.6" y1="321" x2="477.6" y2="331.2" stroke="#7a7a7a" stroke-width="1" />
<path d="M475.70000000000005,330.8 L479.5,330.8 L477.6,333.8 Z" fill="#1a1a1a"/>
<line x1="561.4" y1="321" x2="561.4" y2="331.2" stroke="#7a7a7a" stroke-width="1" />
<path d="M559.5,330.8 L563.3,330.8 L561.4,333.8 Z" fill="#1a1a1a"/>
<line x1="649.0" y1="321" x2="649.0" y2="331.2" stroke="#7a7a7a" stroke-width="1" />
<path d="M647.1,330.8 L650.9,330.8 L649.0,333.8 Z" fill="#1a1a1a"/>
<path d="M9.1,356.7 L9.1,350.1 Q9.1,347.8 11.399999999999999,347.8 L16.599999999999998,347.8 Q18.9,347.8 18.9,350.1 L18.9,356.7 Z" fill="#dec431"/>
<ellipse cx="14.0" cy="345.29" rx="3.40" ry="3.59" fill="#fff"/>
<ellipse cx="14.0" cy="345.29" rx="2.40" ry="2.59" fill="#dec431"/>
<path d="M20.549999999999997,356.7 L20.549999999999997,350.1 Q20.549999999999997,347.8 22.849999999999998,347.8 L28.05,347.8 Q30.35,347.8 30.35,350.1 L30.35,356.7 Z" fill="#dec431"/>
<ellipse cx="25.45" cy="345.29" rx="3.40" ry="3.59" fill="#fff"/>
<ellipse cx="25.45" cy="345.29" rx="2.40" ry="2.59" fill="#dec431"/>
<path d="M32.0,356.7 L32.0,350.1 Q32.0,347.8 34.3,347.8 L39.5,347.8 Q41.8,347.8 41.8,350.1 L41.8,356.7 Z" fill="#dec431"/>
<ellipse cx="36.9" cy="345.29" rx="3.40" ry="3.59" fill="#fff"/>
<ellipse cx="36.9" cy="345.29" rx="2.40" ry="2.59" fill="#dec431"/>
<path d="M46.800000000000004,356.7 L46.800000000000004,350.1 Q46.800000000000004,347.8 49.1,347.8 L54.300000000000004,347.8 Q56.6,347.8 56.6,350.1 L56.6,356.7 Z" fill="#3e7ec8"/>
<ellipse cx="51.7" cy="345.29" rx="3.40" ry="3.59" fill="#fff"/>
<ellipse cx="51.7" cy="345.29" rx="2.40" ry="2.59" fill="#3e7ec8"/>
<path d="M58.300000000000004,356.7 L58.300000000000004,350.1 Q58.300000000000004,347.8 60.6,347.8 L65.80000000000001,347.8 Q68.10000000000001,347.8 68.10000000000001,350.1 L68.10000000000001,356.7 Z" fill="#dec431"/>
<ellipse cx="63.2" cy="345.29" rx="3.40" ry="3.59" fill="#fff"/>
<ellipse cx="63.2" cy="345.29" rx="2.40" ry="2.59" fill="#dec431"/>
<path d="M69.8,356.7 L69.8,350.1 Q69.8,347.8 72.1,347.8 L77.30000000000001,347.8 Q79.60000000000001,347.8 79.60000000000001,350.1 L79.60000000000001,356.7 Z" fill="#3e7ec8"/>
<ellipse cx="74.7" cy="345.29" rx="3.40" ry="3.59" fill="#fff"/>
<ellipse cx="74.7" cy="345.29" rx="2.40" ry="2.59" fill="#3e7ec8"/>
<path d="M15.9,373.5 L15.9,366.90000000000003 Q15.9,364.6 18.2,364.6 L23.400000000000002,364.6 Q25.700000000000003,364.6 25.700000000000003,366.90000000000003 L25.700000000000003,373.5 Z" fill="#dec431"/>
<ellipse cx="20.8" cy="362.09" rx="3.40" ry="3.59" fill="#fff"/>
<ellipse cx="20.8" cy="362.09" rx="2.40" ry="2.59" fill="#dec431"/>
<path d="M27.0,373.5 L27.0,366.90000000000003 Q27.0,364.6 29.3,364.6 L34.5,364.6 Q36.8,364.6 36.8,366.90000000000003 L36.8,373.5 Z" fill="#3e7ec8"/>
<ellipse cx="31.9" cy="362.09" rx="3.40" ry="3.59" fill="#fff"/>
<ellipse cx="31.9" cy="362.09" rx="2.40" ry="2.59" fill="#3e7ec8"/>
<path d="M53.6,373.5 L53.6,366.90000000000003 Q53.6,364.6 55.9,364.6 L61.1,364.6 Q63.4,364.6 63.4,366.90000000000003 L63.4,373.5 Z" fill="#3e7ec8"/>
<ellipse cx="58.5" cy="362.09" rx="3.40" ry="3.59" fill="#fff"/>
<ellipse cx="58.5" cy="362.09" rx="2.40" ry="2.59" fill="#3e7ec8"/>
<path d="M64.69999999999999,373.5 L64.69999999999999,366.90000000000003 Q64.69999999999999,364.6 66.99999999999999,364.6 L72.2,364.6 Q74.5,364.6 74.5,366.90000000000003 L74.5,373.5 Z" fill="#3e7ec8"/>
<ellipse cx="69.6" cy="362.09" rx="3.40" ry="3.59" fill="#fff"/>
<ellipse cx="69.6" cy="362.09" rx="2.40" ry="2.59" fill="#3e7ec8"/>
<path d="M92.89999999999999,356.7 L92.89999999999999,350.1 Q92.89999999999999,347.8 95.19999999999999,347.8 L100.4,347.8 Q102.7,347.8 102.7,350.1 L102.7,356.7 Z" fill="#dec431"/>
<ellipse cx="97.8" cy="345.29" rx="3.40" ry="3.59" fill="#fff"/>
<ellipse cx="97.8" cy="345.29" rx="2.40" ry="2.59" fill="#dec431"/>
<path d="M104.35,356.7 L104.35,350.1 Q104.35,347.8 106.64999999999999,347.8 L111.85000000000001,347.8 Q114.15,347.8 114.15,350.1 L114.15,356.7 Z" fill="#dec431"/>
<ellipse cx="109.25" cy="345.29" rx="3.40" ry="3.59" fill="#fff"/>
<ellipse cx="109.25" cy="345.29" rx="2.40" ry="2.59" fill="#dec431"/>
<path d="M115.79999999999998,356.7 L115.79999999999998,350.1 Q115.79999999999998,347.8 118.09999999999998,347.8 L123.3,347.8 Q125.6,347.8 125.6,350.1 L125.6,356.7 Z" fill="#dec431"/>
<ellipse cx="120.69999999999999" cy="345.29" rx="3.40" ry="3.59" fill="#fff"/>
<ellipse cx="120.69999999999999" cy="345.29" rx="2.40" ry="2.59" fill="#dec431"/>
<path d="M130.6,356.7 L130.6,350.1 Q130.6,347.8 132.9,347.8 L138.1,347.8 Q140.4,347.8 140.4,350.1 L140.4,356.7 Z" fill="#3e7ec8"/>
<ellipse cx="135.5" cy="345.29" rx="3.40" ry="3.59" fill="#fff"/>
<ellipse cx="135.5" cy="345.29" rx="2.40" ry="2.59" fill="#3e7ec8"/>
<path d="M142.1,356.7 L142.1,350.1 Q142.1,347.8 144.4,347.8 L149.6,347.8 Q151.9,347.8 151.9,350.1 L151.9,356.7 Z" fill="#dec431"/>
<ellipse cx="147.0" cy="345.29" rx="3.40" ry="3.59" fill="#fff"/>
<ellipse cx="147.0" cy="345.29" rx="2.40" ry="2.59" fill="#dec431"/>
<path d="M153.6,356.7 L153.6,350.1 Q153.6,347.8 155.9,347.8 L161.1,347.8 Q163.4,347.8 163.4,350.1 L163.4,356.7 Z" fill="#3e7ec8"/>
<ellipse cx="158.5" cy="345.29" rx="3.40" ry="3.59" fill="#fff"/>
<ellipse cx="158.5" cy="345.29" rx="2.40" ry="2.59" fill="#3e7ec8"/>
<path d="M99.69999999999999,373.5 L99.69999999999999,366.90000000000003 Q99.69999999999999,364.6 101.99999999999999,364.6 L107.2,364.6 Q109.5,364.6 109.5,366.90000000000003 L109.5,373.5 Z" fill="#dec431"/>
<ellipse cx="104.6" cy="362.09" rx="3.40" ry="3.59" fill="#fff"/>
<ellipse cx="104.6" cy="362.09" rx="2.40" ry="2.59" fill="#dec431"/>
<path d="M110.79999999999998,373.5 L110.79999999999998,366.90000000000003 Q110.79999999999998,364.6 113.09999999999998,364.6 L118.3,364.6 Q120.6,364.6 120.6,366.90000000000003 L120.6,373.5 Z" fill="#3e7ec8"/>
<ellipse cx="115.69999999999999" cy="362.09" rx="3.40" ry="3.59" fill="#fff"/>
<ellipse cx="115.69999999999999" cy="362.09" rx="2.40" ry="2.59" fill="#3e7ec8"/>
<path d="M137.4,373.5 L137.4,366.90000000000003 Q137.4,364.6 139.70000000000002,364.6 L144.9,364.6 Q147.20000000000002,364.6 147.20000000000002,366.90000000000003 L147.20000000000002,373.5 Z" fill="#3e7ec8"/>
<ellipse cx="142.3" cy="362.09" rx="3.40" ry="3.59" fill="#fff"/>
<ellipse cx="142.3" cy="362.09" rx="2.40" ry="2.59" fill="#3e7ec8"/>
<path d="M148.5,373.5 L148.5,366.90000000000003 Q148.5,364.6 150.8,364.6 L156.0,364.6 Q158.3,364.6 158.3,366.90000000000003 L158.3,373.5 Z" fill="#3e7ec8"/>
<ellipse cx="153.4" cy="362.09" rx="3.40" ry="3.59" fill="#fff"/>
<ellipse cx="153.4" cy="362.09" rx="2.40" ry="2.59" fill="#3e7ec8"/>
<path d="M178.1,356.7 L178.1,350.1 Q178.1,347.8 180.4,347.8 L185.6,347.8 Q187.9,347.8 187.9,350.1 L187.9,356.7 Z" fill="#dec431"/>
<ellipse cx="183.0" cy="345.29" rx="3.40" ry="3.59" fill="#fff"/>
<ellipse cx="183.0" cy="345.29" rx="2.40" ry="2.59" fill="#dec431"/>
<path d="M189.54999999999998,356.7 L189.54999999999998,350.1 Q189.54999999999998,347.8 191.85,347.8 L197.04999999999998,347.8 Q199.35,347.8 199.35,350.1 L199.35,356.7 Z" fill="#dec431"/>
<ellipse cx="194.45" cy="345.29" rx="3.40" ry="3.59" fill="#fff"/>
<ellipse cx="194.45" cy="345.29" rx="2.40" ry="2.59" fill="#dec431"/>
<path d="M201.0,356.7 L201.0,350.1 Q201.0,347.8 203.3,347.8 L208.5,347.8 Q210.8,347.8 210.8,350.1 L210.8,356.7 Z" fill="#dec431"/>
<ellipse cx="205.9" cy="345.29" rx="3.40" ry="3.59" fill="#fff"/>
<ellipse cx="205.9" cy="345.29" rx="2.40" ry="2.59" fill="#dec431"/>
<path d="M215.79999999999998,356.7 L215.79999999999998,350.1 Q215.79999999999998,347.8 218.1,347.8 L223.29999999999998,347.8 Q225.6,347.8 225.6,350.1 L225.6,356.7 Z" fill="#3e7ec8"/>
<ellipse cx="220.7" cy="345.29" rx="3.40" ry="3.59" fill="#fff"/>
<ellipse cx="220.7" cy="345.29" rx="2.40" ry="2.59" fill="#3e7ec8"/>
<path d="M227.29999999999998,356.7 L227.29999999999998,350.1 Q227.29999999999998,347.8 229.6,347.8 L234.79999999999998,347.8 Q237.1,347.8 237.1,350.1 L237.1,356.7 Z" fill="#dec431"/>
<ellipse cx="232.2" cy="345.29" rx="3.40" ry="3.59" fill="#fff"/>
<ellipse cx="232.2" cy="345.29" rx="2.40" ry="2.59" fill="#dec431"/>
<path d="M238.79999999999998,356.7 L238.79999999999998,350.1 Q238.79999999999998,347.8 241.1,347.8 L246.29999999999998,347.8 Q248.6,347.8 248.6,350.1 L248.6,356.7 Z" fill="#3e7ec8"/>
<ellipse cx="243.7" cy="345.29" rx="3.40" ry="3.59" fill="#fff"/>
<ellipse cx="243.7" cy="345.29" rx="2.40" ry="2.59" fill="#3e7ec8"/>
<path d="M184.9,373.5 L184.9,366.90000000000003 Q184.9,364.6 187.20000000000002,364.6 L192.4,364.6 Q194.70000000000002,364.6 194.70000000000002,366.90000000000003 L194.70000000000002,373.5 Z" fill="#dec431"/>
<ellipse cx="189.8" cy="362.09" rx="3.40" ry="3.59" fill="#fff"/>
<ellipse cx="189.8" cy="362.09" rx="2.40" ry="2.59" fill="#dec431"/>
<path d="M196.0,373.5 L196.0,366.90000000000003 Q196.0,364.6 198.3,364.6 L203.5,364.6 Q205.8,364.6 205.8,366.90000000000003 L205.8,373.5 Z" fill="#3e7ec8"/>
<ellipse cx="200.9" cy="362.09" rx="3.40" ry="3.59" fill="#fff"/>
<ellipse cx="200.9" cy="362.09" rx="2.40" ry="2.59" fill="#3e7ec8"/>
<path d="M222.6,373.5 L222.6,366.90000000000003 Q222.6,364.6 224.9,364.6 L230.1,364.6 Q232.4,364.6 232.4,366.90000000000003 L232.4,373.5 Z" fill="#3e7ec8"/>
<ellipse cx="227.5" cy="362.09" rx="3.40" ry="3.59" fill="#fff"/>
<ellipse cx="227.5" cy="362.09" rx="2.40" ry="2.59" fill="#3e7ec8"/>
<path d="M233.7,373.5 L233.7,366.90000000000003 Q233.7,364.6 236.0,364.6 L241.2,364.6 Q243.5,364.6 243.5,366.90000000000003 L243.5,373.5 Z" fill="#3e7ec8"/>
<ellipse cx="238.6" cy="362.09" rx="3.40" ry="3.59" fill="#fff"/>
<ellipse cx="238.6" cy="362.09" rx="2.40" ry="2.59" fill="#3e7ec8"/>
<path d="M264.45000000000005,356.3 L264.45000000000005,349.70000000000005 Q264.45000000000005,347.40000000000003 266.75000000000006,347.40000000000003 L271.95,347.40000000000003 Q274.25,347.40000000000003 274.25,349.70000000000005 L274.25,356.3 Z" fill="#dec431"/>
<ellipse cx="269.35" cy="344.89" rx="3.40" ry="3.59" fill="#fff"/>
<ellipse cx="269.35" cy="344.89" rx="2.40" ry="2.59" fill="#dec431"/>
<path d="M275.90000000000003,356.3 L275.90000000000003,349.70000000000005 Q275.90000000000003,347.40000000000003 278.20000000000005,347.40000000000003 L283.4,347.40000000000003 Q285.7,347.40000000000003 285.7,349.70000000000005 L285.7,356.3 Z" fill="#dec431"/>
<ellipse cx="280.8" cy="344.89" rx="3.40" ry="3.59" fill="#fff"/>
<ellipse cx="280.8" cy="344.89" rx="2.40" ry="2.59" fill="#dec431"/>
<path d="M287.35,356.3 L287.35,349.70000000000005 Q287.35,347.40000000000003 289.65000000000003,347.40000000000003 L294.84999999999997,347.40000000000003 Q297.15,347.40000000000003 297.15,349.70000000000005 L297.15,356.3 Z" fill="#dec431"/>
<ellipse cx="292.25" cy="344.89" rx="3.40" ry="3.59" fill="#fff"/>
<ellipse cx="292.25" cy="344.89" rx="2.40" ry="2.59" fill="#dec431"/>
<path d="M302.15000000000003,356.3 L302.15000000000003,349.70000000000005 Q302.15000000000003,347.40000000000003 304.45000000000005,347.40000000000003 L309.65,347.40000000000003 Q311.95,347.40000000000003 311.95,349.70000000000005 L311.95,356.3 Z" fill="#3e7ec8"/>
<ellipse cx="307.05" cy="344.89" rx="3.40" ry="3.59" fill="#fff"/>
<ellipse cx="307.05" cy="344.89" rx="2.40" ry="2.59" fill="#3e7ec8"/>
<path d="M313.65000000000003,356.3 L313.65000000000003,349.70000000000005 Q313.65000000000003,347.40000000000003 315.95000000000005,347.40000000000003 L321.15,347.40000000000003 Q323.45,347.40000000000003 323.45,349.70000000000005 L323.45,356.3 Z" fill="#dec431"/>
<ellipse cx="318.55" cy="344.89" rx="3.40" ry="3.59" fill="#fff"/>
<ellipse cx="318.55" cy="344.89" rx="2.40" ry="2.59" fill="#dec431"/>
<path d="M325.15000000000003,356.3 L325.15000000000003,349.70000000000005 Q325.15000000000003,347.40000000000003 327.45000000000005,347.40000000000003 L332.65,347.40000000000003 Q334.95,347.40000000000003 334.95,349.70000000000005 L334.95,356.3 Z" fill="#3e7ec8"/>
<ellipse cx="330.05" cy="344.89" rx="3.40" ry="3.59" fill="#fff"/>
<ellipse cx="330.05" cy="344.89" rx="2.40" ry="2.59" fill="#3e7ec8"/>
<path d="M271.25000000000006,373.1 L271.25000000000006,366.50000000000006 Q271.25000000000006,364.20000000000005 273.55000000000007,364.20000000000005 L278.75,364.20000000000005 Q281.05,364.20000000000005 281.05,366.50000000000006 L281.05,373.1 Z" fill="#dec431"/>
<ellipse cx="276.15000000000003" cy="361.69" rx="3.40" ry="3.59" fill="#fff"/>
<ellipse cx="276.15000000000003" cy="361.69" rx="2.40" ry="2.59" fill="#dec431"/>
<path d="M282.35,373.1 L282.35,366.50000000000006 Q282.35,364.20000000000005 284.65000000000003,364.20000000000005 L289.84999999999997,364.20000000000005 Q292.15,364.20000000000005 292.15,366.50000000000006 L292.15,373.1 Z" fill="#3e7ec8"/>
<ellipse cx="287.25" cy="361.69" rx="3.40" ry="3.59" fill="#fff"/>
<ellipse cx="287.25" cy="361.69" rx="2.40" ry="2.59" fill="#3e7ec8"/>
<path d="M308.95000000000005,373.1 L308.95000000000005,366.50000000000006 Q308.95000000000005,364.20000000000005 311.25000000000006,364.20000000000005 L316.45,364.20000000000005 Q318.75,364.20000000000005 318.75,366.50000000000006 L318.75,373.1 Z" fill="#3e7ec8"/>
<ellipse cx="313.85" cy="361.69" rx="3.40" ry="3.59" fill="#fff"/>
<ellipse cx="313.85" cy="361.69" rx="2.40" ry="2.59" fill="#3e7ec8"/>
<path d="M320.05000000000007,373.1 L320.05000000000007,366.50000000000006 Q320.05000000000007,364.20000000000005 322.3500000000001,364.20000000000005 L327.55,364.20000000000005 Q329.85,364.20000000000005 329.85,366.50000000000006 L329.85,373.1 Z" fill="#3e7ec8"/>
<ellipse cx="324.95000000000005" cy="361.69" rx="3.40" ry="3.59" fill="#fff"/>
<ellipse cx="324.95000000000005" cy="361.69" rx="2.40" ry="2.59" fill="#3e7ec8"/>
<path d="M357.90000000000003,356.7 L357.90000000000003,350.1 Q357.90000000000003,347.8 360.20000000000005,347.8 L365.4,347.8 Q367.7,347.8 367.7,350.1 L367.7,356.7 Z" fill="#dec431"/>
<ellipse cx="362.8" cy="345.29" rx="3.40" ry="3.59" fill="#fff"/>
<ellipse cx="362.8" cy="345.29" rx="2.40" ry="2.59" fill="#dec431"/>
<path d="M369.35,356.7 L369.35,350.1 Q369.35,347.8 371.65000000000003,347.8 L376.84999999999997,347.8 Q379.15,347.8 379.15,350.1 L379.15,356.7 Z" fill="#dec431"/>
<ellipse cx="374.25" cy="345.29" rx="3.40" ry="3.59" fill="#fff"/>
<ellipse cx="374.25" cy="345.29" rx="2.40" ry="2.59" fill="#dec431"/>
<path d="M380.8,356.7 L380.8,350.1 Q380.8,347.8 383.1,347.8 L388.29999999999995,347.8 Q390.59999999999997,347.8 390.59999999999997,350.1 L390.59999999999997,356.7 Z" fill="#dec431"/>
<ellipse cx="385.7" cy="345.29" rx="3.40" ry="3.59" fill="#fff"/>
<ellipse cx="385.7" cy="345.29" rx="2.40" ry="2.59" fill="#dec431"/>
<path d="M395.6,356.7 L395.6,350.1 Q395.6,347.8 397.90000000000003,347.8 L403.09999999999997,347.8 Q405.4,347.8 405.4,350.1 L405.4,356.7 Z" fill="#3e7ec8"/>
<ellipse cx="400.5" cy="345.29" rx="3.40" ry="3.59" fill="#fff"/>
<ellipse cx="400.5" cy="345.29" rx="2.40" ry="2.59" fill="#3e7ec8"/>
<path d="M407.1,356.7 L407.1,350.1 Q407.1,347.8 409.40000000000003,347.8 L414.59999999999997,347.8 Q416.9,347.8 416.9,350.1 L416.9,356.7 Z" fill="#dec431"/>
<ellipse cx="412.0" cy="345.29" rx="3.40" ry="3.59" fill="#fff"/>
<ellipse cx="412.0" cy="345.29" rx="2.40" ry="2.59" fill="#dec431"/>
<path d="M418.6,356.7 L418.6,350.1 Q418.6,347.8 420.90000000000003,347.8 L426.09999999999997,347.8 Q428.4,347.8 428.4,350.1 L428.4,356.7 Z" fill="#3e7ec8"/>
<ellipse cx="423.5" cy="345.29" rx="3.40" ry="3.59" fill="#fff"/>
<ellipse cx="423.5" cy="345.29" rx="2.40" ry="2.59" fill="#3e7ec8"/>
<path d="M364.70000000000005,373.5 L364.70000000000005,366.90000000000003 Q364.70000000000005,364.6 367.00000000000006,364.6 L372.2,364.6 Q374.5,364.6 374.5,366.90000000000003 L374.5,373.5 Z" fill="#dec431"/>
<ellipse cx="369.6" cy="362.09" rx="3.40" ry="3.59" fill="#fff"/>
<ellipse cx="369.6" cy="362.09" rx="2.40" ry="2.59" fill="#dec431"/>
<path d="M375.8,373.5 L375.8,366.90000000000003 Q375.8,364.6 378.1,364.6 L383.29999999999995,364.6 Q385.59999999999997,364.6 385.59999999999997,366.90000000000003 L385.59999999999997,373.5 Z" fill="#3e7ec8"/>
<ellipse cx="380.7" cy="362.09" rx="3.40" ry="3.59" fill="#fff"/>
<ellipse cx="380.7" cy="362.09" rx="2.40" ry="2.59" fill="#3e7ec8"/>
<path d="M402.40000000000003,373.5 L402.40000000000003,366.90000000000003 Q402.40000000000003,364.6 404.70000000000005,364.6 L409.9,364.6 Q412.2,364.6 412.2,366.90000000000003 L412.2,373.5 Z" fill="#3e7ec8"/>
<ellipse cx="407.3" cy="362.09" rx="3.40" ry="3.59" fill="#fff"/>
<ellipse cx="407.3" cy="362.09" rx="2.40" ry="2.59" fill="#3e7ec8"/>
<path d="M413.50000000000006,373.5 L413.50000000000006,366.90000000000003 Q413.50000000000006,364.6 415.80000000000007,364.6 L421.0,364.6 Q423.3,364.6 423.3,366.90000000000003 L423.3,373.5 Z" fill="#3e7ec8"/>
<ellipse cx="418.40000000000003" cy="362.09" rx="3.40" ry="3.59" fill="#fff"/>
<ellipse cx="418.40000000000003" cy="362.09" rx="2.40" ry="2.59" fill="#3e7ec8"/>
<path d="M441.5,356.7 L441.5,350.1 Q441.5,347.8 443.8,347.8 L448.99999999999994,347.8 Q451.29999999999995,347.8 451.29999999999995,350.1 L451.29999999999995,356.7 Z" fill="#dec431"/>
<ellipse cx="446.4" cy="345.29" rx="3.40" ry="3.59" fill="#fff"/>
<ellipse cx="446.4" cy="345.29" rx="2.40" ry="2.59" fill="#dec431"/>
<path d="M452.95,356.7 L452.95,350.1 Q452.95,347.8 455.25,347.8 L460.44999999999993,347.8 Q462.74999999999994,347.8 462.74999999999994,350.1 L462.74999999999994,356.7 Z" fill="#dec431"/>
<ellipse cx="457.84999999999997" cy="345.29" rx="3.40" ry="3.59" fill="#fff"/>
<ellipse cx="457.84999999999997" cy="345.29" rx="2.40" ry="2.59" fill="#dec431"/>
<path d="M464.4,356.7 L464.4,350.1 Q464.4,347.8 466.7,347.8 L471.8999999999999,347.8 Q474.19999999999993,347.8 474.19999999999993,350.1 L474.19999999999993,356.7 Z" fill="#dec431"/>
<ellipse cx="469.29999999999995" cy="345.29" rx="3.40" ry="3.59" fill="#fff"/>
<ellipse cx="469.29999999999995" cy="345.29" rx="2.40" ry="2.59" fill="#dec431"/>
<path d="M479.2,356.7 L479.2,350.1 Q479.2,347.8 481.5,347.8 L486.69999999999993,347.8 Q488.99999999999994,347.8 488.99999999999994,350.1 L488.99999999999994,356.7 Z" fill="#3e7ec8"/>
<ellipse cx="484.09999999999997" cy="345.29" rx="3.40" ry="3.59" fill="#fff"/>
<ellipse cx="484.09999999999997" cy="345.29" rx="2.40" ry="2.59" fill="#3e7ec8"/>
<path d="M490.7,356.7 L490.7,350.1 Q490.7,347.8 493.0,347.8 L498.19999999999993,347.8 Q500.49999999999994,347.8 500.49999999999994,350.1 L500.49999999999994,356.7 Z" fill="#dec431"/>
<ellipse cx="495.59999999999997" cy="345.29" rx="3.40" ry="3.59" fill="#fff"/>
<ellipse cx="495.59999999999997" cy="345.29" rx="2.40" ry="2.59" fill="#dec431"/>
<path d="M502.2,356.7 L502.2,350.1 Q502.2,347.8 504.5,347.8 L509.69999999999993,347.8 Q511.99999999999994,347.8 511.99999999999994,350.1 L511.99999999999994,356.7 Z" fill="#3e7ec8"/>
<ellipse cx="507.09999999999997" cy="345.29" rx="3.40" ry="3.59" fill="#fff"/>
<ellipse cx="507.09999999999997" cy="345.29" rx="2.40" ry="2.59" fill="#3e7ec8"/>
<path d="M448.3,373.5 L448.3,366.90000000000003 Q448.3,364.6 450.6,364.6 L455.79999999999995,364.6 Q458.09999999999997,364.6 458.09999999999997,366.90000000000003 L458.09999999999997,373.5 Z" fill="#dec431"/>
<ellipse cx="453.2" cy="362.09" rx="3.40" ry="3.59" fill="#fff"/>
<ellipse cx="453.2" cy="362.09" rx="2.40" ry="2.59" fill="#dec431"/>
<path d="M459.4,373.5 L459.4,366.90000000000003 Q459.4,364.6 461.7,364.6 L466.8999999999999,364.6 Q469.19999999999993,364.6 469.19999999999993,366.90000000000003 L469.19999999999993,373.5 Z" fill="#3e7ec8"/>
<ellipse cx="464.29999999999995" cy="362.09" rx="3.40" ry="3.59" fill="#fff"/>
<ellipse cx="464.29999999999995" cy="362.09" rx="2.40" ry="2.59" fill="#3e7ec8"/>
<path d="M486.0,373.5 L486.0,366.90000000000003 Q486.0,364.6 488.3,364.6 L493.49999999999994,364.6 Q495.79999999999995,364.6 495.79999999999995,366.90000000000003 L495.79999999999995,373.5 Z" fill="#3e7ec8"/>
<ellipse cx="490.9" cy="362.09" rx="3.40" ry="3.59" fill="#fff"/>
<ellipse cx="490.9" cy="362.09" rx="2.40" ry="2.59" fill="#3e7ec8"/>
<path d="M497.1,373.5 L497.1,366.90000000000003 Q497.1,364.6 499.40000000000003,364.6 L504.59999999999997,364.6 Q506.9,364.6 506.9,366.90000000000003 L506.9,373.5 Z" fill="#3e7ec8"/>
<ellipse cx="502.0" cy="362.09" rx="3.40" ry="3.59" fill="#fff"/>
<ellipse cx="502.0" cy="362.09" rx="2.40" ry="2.59" fill="#3e7ec8"/>
<path d="M526.8000000000001,356.7 L526.8000000000001,350.1 Q526.8000000000001,347.8 529.1,347.8 L534.3000000000001,347.8 Q536.6,347.8 536.6,350.1 L536.6,356.7 Z" fill="#dec431"/>
<ellipse cx="531.7" cy="345.29" rx="3.40" ry="3.59" fill="#fff"/>
<ellipse cx="531.7" cy="345.29" rx="2.40" ry="2.59" fill="#dec431"/>
<path d="M538.2500000000001,356.7 L538.2500000000001,350.1 Q538.2500000000001,347.8 540.5500000000001,347.8 L545.7500000000001,347.8 Q548.0500000000001,347.8 548.0500000000001,350.1 L548.0500000000001,356.7 Z" fill="#dec431"/>
<ellipse cx="543.1500000000001" cy="345.29" rx="3.40" ry="3.59" fill="#fff"/>
<ellipse cx="543.1500000000001" cy="345.29" rx="2.40" ry="2.59" fill="#dec431"/>
<path d="M549.7,356.7 L549.7,350.1 Q549.7,347.8 552.0,347.8 L557.2,347.8 Q559.5,347.8 559.5,350.1 L559.5,356.7 Z" fill="#dec431"/>
<ellipse cx="554.6" cy="345.29" rx="3.40" ry="3.59" fill="#fff"/>
<ellipse cx="554.6" cy="345.29" rx="2.40" ry="2.59" fill="#dec431"/>
<path d="M564.5000000000001,356.7 L564.5000000000001,350.1 Q564.5000000000001,347.8 566.8000000000001,347.8 L572.0000000000001,347.8 Q574.3000000000001,347.8 574.3000000000001,350.1 L574.3000000000001,356.7 Z" fill="#3e7ec8"/>
<ellipse cx="569.4000000000001" cy="345.29" rx="3.40" ry="3.59" fill="#fff"/>
<ellipse cx="569.4000000000001" cy="345.29" rx="2.40" ry="2.59" fill="#3e7ec8"/>
<path d="M576.0000000000001,356.7 L576.0000000000001,350.1 Q576.0000000000001,347.8 578.3000000000001,347.8 L583.5000000000001,347.8 Q585.8000000000001,347.8 585.8000000000001,350.1 L585.8000000000001,356.7 Z" fill="#dec431"/>
<ellipse cx="580.9000000000001" cy="345.29" rx="3.40" ry="3.59" fill="#fff"/>
<ellipse cx="580.9000000000001" cy="345.29" rx="2.40" ry="2.59" fill="#dec431"/>
<path d="M587.5000000000001,356.7 L587.5000000000001,350.1 Q587.5000000000001,347.8 589.8000000000001,347.8 L595.0000000000001,347.8 Q597.3000000000001,347.8 597.3000000000001,350.1 L597.3000000000001,356.7 Z" fill="#3e7ec8"/>
<ellipse cx="592.4000000000001" cy="345.29" rx="3.40" ry="3.59" fill="#fff"/>
<ellipse cx="592.4000000000001" cy="345.29" rx="2.40" ry="2.59" fill="#3e7ec8"/>
<path d="M533.6,373.5 L533.6,366.90000000000003 Q533.6,364.6 535.9,364.6 L541.1,364.6 Q543.4,364.6 543.4,366.90000000000003 L543.4,373.5 Z" fill="#dec431"/>
<ellipse cx="538.5" cy="362.09" rx="3.40" ry="3.59" fill="#fff"/>
<ellipse cx="538.5" cy="362.09" rx="2.40" ry="2.59" fill="#dec431"/>
<path d="M544.7,373.5 L544.7,366.90000000000003 Q544.7,364.6 547.0,364.6 L552.2,364.6 Q554.5,364.6 554.5,366.90000000000003 L554.5,373.5 Z" fill="#3e7ec8"/>
<ellipse cx="549.6" cy="362.09" rx="3.40" ry="3.59" fill="#fff"/>
<ellipse cx="549.6" cy="362.09" rx="2.40" ry="2.59" fill="#3e7ec8"/>
<path d="M571.3000000000001,373.5 L571.3000000000001,366.90000000000003 Q571.3000000000001,364.6 573.6,364.6 L578.8000000000001,364.6 Q581.1,364.6 581.1,366.90000000000003 L581.1,373.5 Z" fill="#3e7ec8"/>
<ellipse cx="576.2" cy="362.09" rx="3.40" ry="3.59" fill="#fff"/>
<ellipse cx="576.2" cy="362.09" rx="2.40" ry="2.59" fill="#3e7ec8"/>
<path d="M582.4000000000001,373.5 L582.4000000000001,366.90000000000003 Q582.4000000000001,364.6 584.7,364.6 L589.9000000000001,364.6 Q592.2,364.6 592.2,366.90000000000003 L592.2,373.5 Z" fill="#3e7ec8"/>
<ellipse cx="587.3000000000001" cy="362.09" rx="3.40" ry="3.59" fill="#fff"/>
<ellipse cx="587.3000000000001" cy="362.09" rx="2.40" ry="2.59" fill="#3e7ec8"/>
<path d="M613.1,356.3 L613.1,349.70000000000005 Q613.1,347.40000000000003 615.4,347.40000000000003 L620.6,347.40000000000003 Q622.9,347.40000000000003 622.9,349.70000000000005 L622.9,356.3 Z" fill="#dec431"/>
<ellipse cx="618.0" cy="344.89" rx="3.40" ry="3.59" fill="#fff"/>
<ellipse cx="618.0" cy="344.89" rx="2.40" ry="2.59" fill="#dec431"/>
<path d="M624.5500000000001,356.3 L624.5500000000001,349.70000000000005 Q624.5500000000001,347.40000000000003 626.85,347.40000000000003 L632.0500000000001,347.40000000000003 Q634.35,347.40000000000003 634.35,349.70000000000005 L634.35,356.3 Z" fill="#dec431"/>
<ellipse cx="629.45" cy="344.89" rx="3.40" ry="3.59" fill="#fff"/>
<ellipse cx="629.45" cy="344.89" rx="2.40" ry="2.59" fill="#dec431"/>
<path d="M636.0,356.3 L636.0,349.70000000000005 Q636.0,347.40000000000003 638.3,347.40000000000003 L643.5,347.40000000000003 Q645.8,347.40000000000003 645.8,349.70000000000005 L645.8,356.3 Z" fill="#dec431"/>
<ellipse cx="640.9" cy="344.89" rx="3.40" ry="3.59" fill="#fff"/>
<ellipse cx="640.9" cy="344.89" rx="2.40" ry="2.59" fill="#dec431"/>
<path d="M650.8000000000001,356.3 L650.8000000000001,349.70000000000005 Q650.8000000000001,347.40000000000003 653.1,347.40000000000003 L658.3000000000001,347.40000000000003 Q660.6,347.40000000000003 660.6,349.70000000000005 L660.6,356.3 Z" fill="#3e7ec8"/>
<ellipse cx="655.7" cy="344.89" rx="3.40" ry="3.59" fill="#fff"/>
<ellipse cx="655.7" cy="344.89" rx="2.40" ry="2.59" fill="#3e7ec8"/>
<path d="M662.3000000000001,356.3 L662.3000000000001,349.70000000000005 Q662.3000000000001,347.40000000000003 664.6,347.40000000000003 L669.8000000000001,347.40000000000003 Q672.1,347.40000000000003 672.1,349.70000000000005 L672.1,356.3 Z" fill="#dec431"/>
<ellipse cx="667.2" cy="344.89" rx="3.40" ry="3.59" fill="#fff"/>
<ellipse cx="667.2" cy="344.89" rx="2.40" ry="2.59" fill="#dec431"/>
<path d="M673.8000000000001,356.3 L673.8000000000001,349.70000000000005 Q673.8000000000001,347.40000000000003 676.1,347.40000000000003 L681.3000000000001,347.40000000000003 Q683.6,347.40000000000003 683.6,349.70000000000005 L683.6,356.3 Z" fill="#3e7ec8"/>
<ellipse cx="678.7" cy="344.89" rx="3.40" ry="3.59" fill="#fff"/>
<ellipse cx="678.7" cy="344.89" rx="2.40" ry="2.59" fill="#3e7ec8"/>
<path d="M619.9,373.1 L619.9,366.50000000000006 Q619.9,364.20000000000005 622.1999999999999,364.20000000000005 L627.4,364.20000000000005 Q629.6999999999999,364.20000000000005 629.6999999999999,366.50000000000006 L629.6999999999999,373.1 Z" fill="#dec431"/>
<ellipse cx="624.8" cy="361.69" rx="3.40" ry="3.59" fill="#fff"/>
<ellipse cx="624.8" cy="361.69" rx="2.40" ry="2.59" fill="#dec431"/>
<path d="M631.0,373.1 L631.0,366.50000000000006 Q631.0,364.20000000000005 633.3,364.20000000000005 L638.5,364.20000000000005 Q640.8,364.20000000000005 640.8,366.50000000000006 L640.8,373.1 Z" fill="#3e7ec8"/>
<ellipse cx="635.9" cy="361.69" rx="3.40" ry="3.59" fill="#fff"/>
<ellipse cx="635.9" cy="361.69" rx="2.40" ry="2.59" fill="#3e7ec8"/>
<path d="M657.6,373.1 L657.6,366.50000000000006 Q657.6,364.20000000000005 659.9,364.20000000000005 L665.1,364.20000000000005 Q667.4,364.20000000000005 667.4,366.50000000000006 L667.4,373.1 Z" fill="#3e7ec8"/>
<ellipse cx="662.5" cy="361.69" rx="3.40" ry="3.59" fill="#fff"/>
<ellipse cx="662.5" cy="361.69" rx="2.40" ry="2.59" fill="#3e7ec8"/>
<path d="M668.7,373.1 L668.7,366.50000000000006 Q668.7,364.20000000000005 671.0,364.20000000000005 L676.2,364.20000000000005 Q678.5,364.20000000000005 678.5,366.50000000000006 L678.5,373.1 Z" fill="#3e7ec8"/>
<ellipse cx="673.6" cy="361.69" rx="3.40" ry="3.59" fill="#fff"/>
<ellipse cx="673.6" cy="361.69" rx="2.40" ry="2.59" fill="#3e7ec8"/>
<path d="M118.85000000000001,393.05 L118.85000000000001,389.35 Q118.85000000000001,387.85 120.35000000000001,387.85 L124.45,387.85 Q125.95,387.85 125.95,389.35 L125.95,393.05 Z" fill="#dec431"/>
<ellipse cx="122.4" cy="386.44" rx="2.45" ry="2.59" fill="#fff"/>
<ellipse cx="122.4" cy="386.44" rx="1.75" ry="1.89" fill="#dec431"/>
<text x="126.9" y="391.8" font-size="7" text-anchor="start" >:LUAD case</text>
<path d="M168.64999999999998,393.05 L168.64999999999998,389.35 Q168.64999999999998,387.85 170.14999999999998,387.85 L174.25,387.85 Q175.75,387.85 175.75,389.35 L175.75,393.05 Z" fill="#3e7ec8"/>
<ellipse cx="172.2" cy="386.44" rx="2.45" ry="2.59" fill="#fff"/>
<ellipse cx="172.2" cy="386.44" rx="1.75" ry="1.89" fill="#3e7ec8"/>
<text x="177.60000000000002" y="391.8" font-size="7" text-anchor="start" >:Healthy control</text>
<path d="M467.34999999999997,393.05 L467.34999999999997,389.35 Q467.34999999999997,387.85 468.84999999999997,387.85 L472.95,387.85 Q474.45,387.85 474.45,389.35 L474.45,393.05 Z" fill="#dec431"/>
<ellipse cx="470.9" cy="386.44" rx="2.45" ry="2.59" fill="#fff"/>
<ellipse cx="470.9" cy="386.44" rx="1.75" ry="1.89" fill="#dec431"/>
<text x="475.4" y="391.8" font-size="7" text-anchor="start" >:LUAD case</text>
<path d="M517.15,393.05 L517.15,389.35 Q517.15,387.85 518.65,387.85 L522.7499999999999,387.85 Q524.2499999999999,387.85 524.2499999999999,389.35 L524.2499999999999,393.05 Z" fill="#3e7ec8"/>
<ellipse cx="520.6999999999999" cy="386.44" rx="2.45" ry="2.59" fill="#fff"/>
<ellipse cx="520.6999999999999" cy="386.44" rx="1.75" ry="1.89" fill="#3e7ec8"/>
<text x="526.1" y="391.8" font-size="7" text-anchor="start" >:Healthy control</text>
<text transform="translate(5.9,380.8) rotate(-90)" font-size="7" text-anchor="middle">Susceptibility study</text>
<text transform="translate(355.4,381.3) rotate(-90)" font-size="7" text-anchor="middle">Susceptibility study</text>
<text x="17.9" y="407.3" font-size="7" text-anchor="start" >risk</text>
<path d="M32.4,399.8 L35.4,405.0 L33.4,403.8 L33.4,411.5 L31.4,411.5 L31.4,403.8 L29.4,405.0 Z" fill="#e8181c"/>
<text x="25.349999999999998" y="424.2" font-size="7" text-anchor="middle" >OR&gt;1</text>
<text x="55.9" y="407.3" font-size="7" text-anchor="start" >risk</text>
<path d="M69.3,411.5 L72.3,406.3 L70.3,407.5 L70.3,399.8 L68.3,399.8 L68.3,407.5 L66.3,406.3 Z" fill="#e8181c"/>
<text x="62.8" y="424.2" font-size="7" text-anchor="middle" >OR&lt;1</text>
<text x="102.0" y="407.3" font-size="7" text-anchor="start" >risk</text>
<path d="M117.4,399.8 L120.4,405.0 L118.4,403.8 L118.4,411.5 L116.4,411.5 L116.4,403.8 L114.4,405.0 Z" fill="#e8181c"/>
<text x="109.9" y="424.2" font-size="7" text-anchor="middle" >OR&gt;1</text>
<text x="140.0" y="407.3" font-size="7" text-anchor="start" >risk</text>
<path d="M154.4,411.5 L157.4,406.3 L155.4,407.5 L155.4,399.8 L153.4,399.8 L153.4,407.5 L151.4,406.3 Z" fill="#e8181c"/>
<text x="147.39999999999998" y="424.2" font-size="7" text-anchor="middle" >OR&lt;1</text>
<text x="187.6" y="407.3" font-size="7" text-anchor="start" >risk</text>
<path d="M202.6,399.8 L205.6,405.0 L203.6,403.8 L203.6,411.5 L201.6,411.5 L201.6,403.8 L199.6,405.0 Z" fill="#e8181c"/>
<text x="195.29999999999998" y="424.2" font-size="7" text-anchor="middle" >OR&gt;1</text>
<text x="225.6" y="407.3" font-size="7" text-anchor="start" >risk</text>
<path d="M239.4,411.5 L242.4,406.3 L240.4,407.5 L240.4,399.8 L238.4,399.8 L238.4,407.5 L236.4,406.3 Z" fill="#e8181c"/>
<text x="232.7" y="424.2" font-size="7" text-anchor="middle" >OR&lt;1</text>
<text x="272.5" y="407.3" font-size="7" text-anchor="start" >risk</text>
<path d="M287.6,399.8 L290.6,405.0 L288.6,403.8 L288.6,411.5 L286.6,411.5 L286.6,403.8 L284.6,405.0 Z" fill="#e8181c"/>
<text x="280.25" y="424.2" font-size="7" text-anchor="middle" >OR&gt;1</text>
<text x="310.4" y="407.3" font-size="7" text-anchor="start" >risk</text>
<path d="M324.0,411.5 L327.0,406.3 L325.0,407.5 L325.0,399.8 L323.0,399.8 L323.0,407.5 L321.0,406.3 Z" fill="#e8181c"/>
<text x="317.4" y="424.2" font-size="7" text-anchor="middle" >OR&lt;1</text>
<text x="366.6" y="407.3" font-size="7" text-anchor="start" >risk</text>
<path d="M381.0,399.8 L384.0,405.0 L382.0,403.8 L382.0,411.5 L380.0,411.5 L380.0,403.8 L378.0,405.0 Z" fill="#e8181c"/>
<text x="374.0" y="424.2" font-size="7" text-anchor="middle" >OR&gt;1</text>
<text x="403.5" y="407.3" font-size="7" text-anchor="start" >risk</text>
<path d="M418.4,411.5 L421.4,406.3 L419.4,407.5 L419.4,399.8 L417.4,399.8 L417.4,407.5 L415.4,406.3 Z" fill="#e8181c"/>
<text x="411.15" y="424.2" font-size="7" text-anchor="middle" >OR&lt;1</text>
<text x="451.0" y="407.3" font-size="7" text-anchor="start" >risk</text>
<path d="M466.4,399.8 L469.4,405.0 L467.4,403.8 L467.4,411.5 L465.4,411.5 L465.4,403.8 L463.4,405.0 Z" fill="#e8181c"/>
<text x="458.9" y="424.2" font-size="7" text-anchor="middle" >OR&gt;1</text>
<text x="489.0" y="407.3" font-size="7" text-anchor="start" >risk</text>
<path d="M503.0,411.5 L506.0,406.3 L504.0,407.5 L504.0,399.8 L502.0,399.8 L502.0,407.5 L500.0,406.3 Z" fill="#e8181c"/>
<text x="496.2" y="424.2" font-size="7" text-anchor="middle" >OR&lt;1</text>
<text x="536.6" y="407.3" font-size="7" text-anchor="start" >risk</text>
<path d="M551.0,399.8 L554.0,405.0 L552.0,403.8 L552.0,411.5 L550.0,411.5 L550.0,403.8 L548.0,405.0 Z" fill="#e8181c"/>
<text x="544.0" y="424.2" font-size="7" text-anchor="middle" >OR&gt;1</text>
<text x="574.6" y="407.3" font-size="7" text-anchor="start" >risk</text>
<path d="M588.0,411.5 L591.0,406.3 L589.0,407.5 L589.0,399.8 L587.0,399.8 L587.0,407.5 L585.0,406.3 Z" fill="#e8181c"/>
<text x="581.5" y="424.2" font-size="7" text-anchor="middle" >OR&lt;1</text>
<text x="621.0" y="407.3" font-size="7" text-anchor="start" >risk</text>
<path d="M636.0,399.8 L639.0,405.0 L637.0,403.8 L637.0,411.5 L635.0,411.5 L635.0,403.8 L633.0,405.0 Z" fill="#e8181c"/>
<text x="628.7" y="424.2" font-size="7" text-anchor="middle" >OR&gt;1</text>
<text x="659.0" y="407.3" font-size="7" text-anchor="start" >risk</text>
<path d="M673.0,411.5 L676.0,406.3 L674.0,407.5 L674.0,399.8 L672.0,399.8 L672.0,407.5 L670.0,406.3 Z" fill="#e8181c"/>
<text x="666.2" y="424.2" font-size="7" text-anchor="middle" >OR&lt;1</text>
<rect x="1.5" y="433.4" width="45.9" height="37.0" fill="none" stroke="#e8333a" stroke-width="1.1" stroke-dasharray="1.5 1.8"/>
<text x="24.45" y="440.8" font-size="7" text-anchor="middle" >rs750373</text>
<text x="24.45" y="449.3" font-size="7" text-anchor="middle" >T&gt;C</text>
<text x="24.45" y="457.8" font-size="7" text-anchor="middle" >(cg04571833-</text>
<text x="24.45" y="466.3" font-size="7" text-anchor="middle"><tspan font-style="italic">RAPGEF4</tspan>)</text>
<rect x="79.4" y="433.4" width="46.19999999999999" height="37.0" fill="none" stroke="#e8333a" stroke-width="1.1" stroke-dasharray="1.5 1.8"/>
<text x="102.5" y="440.8" font-size="7" text-anchor="middle" >rs328890</text>
<text x="102.5" y="449.3" font-size="7" text-anchor="middle" >G&gt;A</text>
<text x="102.5" y="457.8" font-size="7" text-anchor="middle" >(cg04065210-</text>
<text x="102.5" y="466.3" font-size="7" text-anchor="middle"><tspan font-style="italic">DPY19L1</tspan>)</text>
<rect x="130.3" y="433.4" width="46.599999999999994" height="37.0" fill="none" stroke="#4448ee" stroke-width="1.1" stroke-dasharray="1.5 1.8"/>
<text x="153.60000000000002" y="440.8" font-size="7" text-anchor="middle" >rs66719815</text>
<text x="153.60000000000002" y="449.3" font-size="7" text-anchor="middle" >T&gt;C</text>
<text x="153.60000000000002" y="457.8" font-size="7" text-anchor="middle" >(cg19220282-</text>
<text x="153.60000000000002" y="466.3" font-size="7" text-anchor="middle"><tspan font-style="italic">SLC1A4</tspan>)</text>
<rect x="209.4" y="433.4" width="48.599999999999994" height="37.0" fill="none" stroke="#e8333a" stroke-width="1.1" stroke-dasharray="1.5 1.8"/>
<text x="233.7" y="440.8" font-size="7" text-anchor="middle" >rs2885221</text>
<text x="233.7" y="449.3" font-size="7" text-anchor="middle" >A&gt;G</text>
<text x="233.7" y="457.8" font-size="7" text-anchor="middle" >(cg03230154-</text>
<text x="233.7" y="466.3" font-size="7" text-anchor="middle"><tspan font-style="italic">ZNF492</tspan>)</text>
<rect x="353.2" y="433.4" width="45.69999999999999" height="37.0" fill="none" stroke="#e8333a" stroke-width="1.1" stroke-dasharray="1.5 1.8"/>
<text x="376.04999999999995" y="440.8" font-size="7" text-anchor="middle" >rs12680375</text>
<text x="376.04999999999995" y="449.3" font-size="7" text-anchor="middle" >G&gt;A</text>
<text x="376.04999999999995" y="457.8" font-size="7" text-anchor="middle" >(cg10700718-</text>
<text x="376.04999999999995" y="466.3" font-size="7" text-anchor="middle"><tspan font-style="italic">MYOM2</tspan>)</text>
<rect x="403.3" y="433.4" width="45.30000000000001" height="37.0" fill="none" stroke="#e8333a" stroke-width="1.1" stroke-dasharray="1.5 1.8"/>
<text x="425.95000000000005" y="440.8" font-size="7" text-anchor="middle" >rs3743281</text>
<text x="425.95000000000005" y="449.3" font-size="7" text-anchor="middle" >C&gt;T</text>
<text x="425.95000000000005" y="457.8" font-size="7" text-anchor="middle" >(cg16110827-</text>
<text x="425.95000000000005" y="466.3" font-size="7" text-anchor="middle"><tspan font-style="italic">SEMA6D</tspan>)</text>
<rect x="564.4" y="433.4" width="46.0" height="37.0" fill="none" stroke="#4448ee" stroke-width="1.1" stroke-dasharray="1.5 1.8"/>
<text x="587.4" y="440.8" font-size="7" text-anchor="middle" >rs939408</text>
<text x="587.4" y="449.3" font-size="7" text-anchor="middle" >C&gt;A</text>
<text x="587.4" y="457.8" font-size="7" text-anchor="middle" >(cg09596674-</text>
<text x="587.4" y="466.3" font-size="7" text-anchor="middle"><tspan font-style="italic">LRRC2)</tspan></text>
</svg>
</body></html>
